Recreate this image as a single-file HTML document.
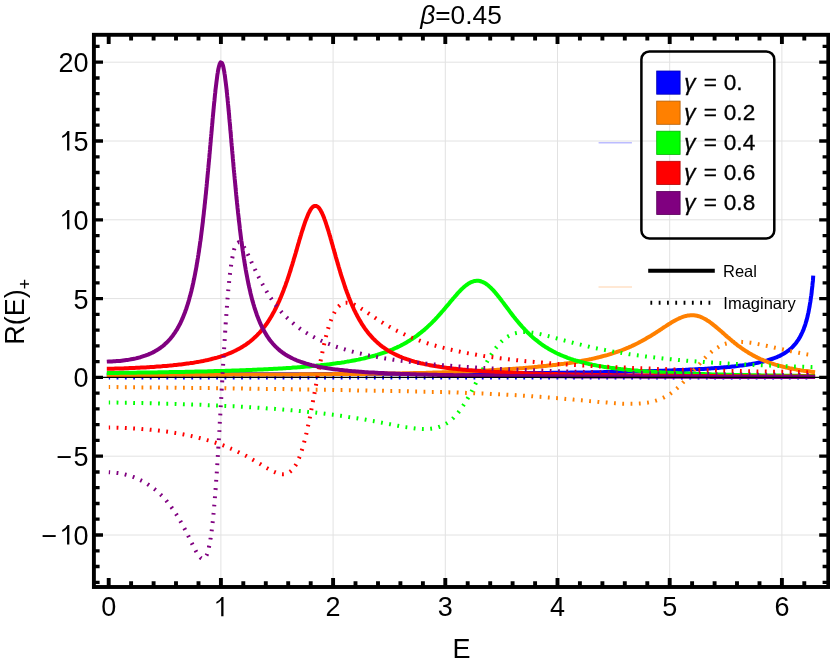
<!DOCTYPE html>
<html><head><meta charset="utf-8"><title>plot</title>
<style>html,body{margin:0;padding:0;background:#fff}svg{display:block;will-change:transform}text{font-family:"Liberation Sans",sans-serif;fill:#000}</style></head>
<body>
<svg width="830" height="664" viewBox="0 0 830 664">
<rect width="830" height="664" fill="#fff"/>
<g stroke="#e2e2e2" stroke-width="1" fill="none">
<path d="M220.9 34.8 V587.0"/>
<path d="M333.1 34.8 V587.0"/>
<path d="M445.3 34.8 V587.0"/>
<path d="M557.5 34.8 V587.0"/>
<path d="M669.7 34.8 V587.0"/>
<path d="M781.9 34.8 V587.0"/>
<path d="M93.9 535.0 H828.3"/>
<path d="M93.9 456.2 H828.3"/>
<path d="M93.9 377.4 H828.3"/>
<path d="M93.9 298.6 H828.3"/>
<path d="M93.9 219.8 H828.3"/>
<path d="M93.9 141.0 H828.3"/>
<path d="M93.9 62.2 H828.3"/>
</g>
<path d="M598.6 142.7 H631.9" stroke="#bcbcff" stroke-width="1.4"/>
<path d="M598.5 286.9 H632" stroke="#ffe1c6" stroke-width="1.5"/>
<g fill="none" stroke-width="4.0" stroke-linejoin="round">
<path d="M108.8 374.4 L110.4 374.4 L112.0 374.4 L113.6 374.4 L115.2 374.4 L116.8 374.4 L118.4 374.4 L120.0 374.4 L121.6 374.4 L123.2 374.4 L124.8 374.4 L126.4 374.4 L128.0 374.4 L129.6 374.4 L131.3 374.4 L132.9 374.4 L134.5 374.4 L136.1 374.4 L137.7 374.4 L139.3 374.4 L140.9 374.4 L142.5 374.4 L144.1 374.4 L145.7 374.4 L147.3 374.4 L148.9 374.4 L150.5 374.4 L152.1 374.4 L153.7 374.4 L155.3 374.4 L156.9 374.4 L158.5 374.4 L160.1 374.4 L161.7 374.4 L163.3 374.4 L164.9 374.4 L166.5 374.4 L168.1 374.3 L169.7 374.3 L171.3 374.3 L172.9 374.3 L174.5 374.3 L176.2 374.3 L177.8 374.3 L179.4 374.3 L181.0 374.3 L182.6 374.3 L184.2 374.3 L185.8 374.3 L187.4 374.3 L189.0 374.3 L190.6 374.3 L192.2 374.3 L193.8 374.3 L195.4 374.3 L197.0 374.3 L198.6 374.3 L200.2 374.3 L201.8 374.3 L203.4 374.3 L205.0 374.3 L206.6 374.3 L208.2 374.3 L209.8 374.3 L211.4 374.3 L213.0 374.3 L214.6 374.3 L216.2 374.3 L217.8 374.3 L219.5 374.3 L221.1 374.3 L222.7 374.3 L224.3 374.3 L225.9 374.3 L227.5 374.3 L229.1 374.3 L230.7 374.3 L232.3 374.3 L233.9 374.3 L235.5 374.3 L237.1 374.3 L238.7 374.3 L240.3 374.3 L241.9 374.3 L243.5 374.3 L245.1 374.3 L246.7 374.3 L248.3 374.3 L249.9 374.3 L251.5 374.3 L253.1 374.3 L254.7 374.3 L256.3 374.3 L257.9 374.3 L259.5 374.3 L261.1 374.3 L262.8 374.2 L264.4 374.2 L266.0 374.2 L267.6 374.2 L269.2 374.2 L270.8 374.2 L272.4 374.2 L274.0 374.2 L275.6 374.2 L277.2 374.2 L278.8 374.2 L280.4 374.2 L282.0 374.2 L283.6 374.2 L285.2 374.2 L286.8 374.2 L288.4 374.2 L290.0 374.2 L291.6 374.2 L293.2 374.2 L294.8 374.2 L296.4 374.2 L298.0 374.2 L299.6 374.2 L301.2 374.2 L302.8 374.2 L304.4 374.2 L306.0 374.2 L307.7 374.2 L309.3 374.2 L310.9 374.2 L312.5 374.2 L314.1 374.1 L315.7 374.1 L317.3 374.1 L318.9 374.1 L320.5 374.1 L322.1 374.1 L323.7 374.1 L325.3 374.1 L326.9 374.1 L328.5 374.1 L330.1 374.1 L331.7 374.1 L333.3 374.1 L334.9 374.1 L336.5 374.1 L338.1 374.1 L339.7 374.1 L341.3 374.1 L342.9 374.1 L344.5 374.1 L346.1 374.1 L347.7 374.1 L349.3 374.1 L351.0 374.1 L352.6 374.0 L354.2 374.0 L355.8 374.0 L357.4 374.0 L359.0 374.0 L360.6 374.0 L362.2 374.0 L363.8 374.0 L365.4 374.0 L367.0 374.0 L368.6 374.0 L370.2 374.0 L371.8 374.0 L373.4 374.0 L375.0 374.0 L376.6 374.0 L378.2 374.0 L379.8 374.0 L381.4 374.0 L383.0 373.9 L384.6 373.9 L386.2 373.9 L387.8 373.9 L389.4 373.9 L391.0 373.9 L392.6 373.9 L394.2 373.9 L395.9 373.9 L397.5 373.9 L399.1 373.9 L400.7 373.9 L402.3 373.9 L403.9 373.9 L405.5 373.9 L407.1 373.9 L408.7 373.9 L410.3 373.8 L411.9 373.8 L413.5 373.8 L415.1 373.8 L416.7 373.8 L418.3 373.8 L419.9 373.8 L421.5 373.8 L423.1 373.8 L424.7 373.8 L426.3 373.8 L427.9 373.8 L429.5 373.8 L431.1 373.7 L432.7 373.7 L434.3 373.7 L435.9 373.7 L437.5 373.7 L439.2 373.7 L440.8 373.7 L442.4 373.7 L444.0 373.7 L445.6 373.7 L447.2 373.7 L448.8 373.7 L450.4 373.7 L452.0 373.6 L453.6 373.6 L455.2 373.6 L456.8 373.6 L458.4 373.6 L460.0 373.6 L461.6 373.6 L463.2 373.6 L464.8 373.6 L466.4 373.6 L468.0 373.5 L469.6 373.5 L471.2 373.5 L472.8 373.5 L474.4 373.5 L476.0 373.5 L477.6 373.5 L479.2 373.5 L480.8 373.5 L482.4 373.5 L484.1 373.4 L485.7 373.4 L487.3 373.4 L488.9 373.4 L490.5 373.4 L492.1 373.4 L493.7 373.4 L495.3 373.4 L496.9 373.4 L498.5 373.3 L500.1 373.3 L501.7 373.3 L503.3 373.3 L504.9 373.3 L506.5 373.3 L508.1 373.3 L509.7 373.3 L511.3 373.2 L512.9 373.2 L514.5 373.2 L516.1 373.2 L517.7 373.2 L519.3 373.2 L520.9 373.2 L522.5 373.1 L524.1 373.1 L525.7 373.1 L527.4 373.1 L529.0 373.1 L530.6 373.1 L532.2 373.1 L533.8 373.0 L535.4 373.0 L537.0 373.0 L538.6 373.0 L540.2 373.0 L541.8 373.0 L543.4 372.9 L545.0 372.9 L546.6 372.9 L548.2 372.9 L549.8 372.9 L551.4 372.9 L553.0 372.8 L554.6 372.8 L556.2 372.8 L557.8 372.8 L559.4 372.8 L561.0 372.7 L562.6 372.7 L564.2 372.7 L565.8 372.7 L567.4 372.7 L569.0 372.7 L570.6 372.6 L572.2 372.6 L573.9 372.6 L575.5 372.6 L577.1 372.5 L578.7 372.5 L580.3 372.5 L581.9 372.5 L583.5 372.5 L585.1 372.4 L586.7 372.4 L588.3 372.4 L589.9 372.4 L591.5 372.3 L593.1 372.3 L594.7 372.3 L596.3 372.3 L597.9 372.2 L599.5 372.2 L601.1 372.2 L602.7 372.2 L604.3 372.1 L605.9 372.1 L607.5 372.1 L609.1 372.0 L610.7 372.0 L612.3 372.0 L613.9 371.9 L615.5 371.9 L617.1 371.9 L618.7 371.9 L620.4 371.8 L622.0 371.8 L623.6 371.8 L625.2 371.7 L626.8 371.7 L628.4 371.6 L630.0 371.6 L631.6 371.6 L633.2 371.5 L634.8 371.5 L636.4 371.5 L638.0 371.4 L639.6 371.4 L641.2 371.3 L642.8 371.3 L644.4 371.3 L646.0 371.2 L647.6 371.2 L649.2 371.1 L650.8 371.1 L652.4 371.0 L654.0 371.0 L655.6 370.9 L657.2 370.9 L658.8 370.8 L660.4 370.8 L662.0 370.7 L663.6 370.7 L665.2 370.6 L666.8 370.6 L668.4 370.5 L670.0 370.5 L671.6 370.4 L673.3 370.3 L674.9 370.3 L676.5 370.2 L678.1 370.1 L679.7 370.1 L681.3 370.0 L682.9 369.9 L684.5 369.9 L686.1 369.8 L687.7 369.7 L689.3 369.6 L690.9 369.6 L692.5 369.5 L694.1 369.4 L695.7 369.3 L697.3 369.2 L698.9 369.1 L700.5 369.1 L702.1 369.0 L703.7 368.9 L705.3 368.8 L706.9 368.7 L708.5 368.6 L710.1 368.5 L711.7 368.3 L713.3 368.2 L714.9 368.1 L716.5 368.0 L718.1 367.9 L719.7 367.7 L721.3 367.6 L722.9 367.5 L724.5 367.3 L726.1 367.2 L727.7 367.0 L729.3 366.9 L730.9 366.7 L732.5 366.5 L734.0 366.4 L735.6 366.2 L737.2 366.0 L738.8 365.8 L740.4 365.6 L742.0 365.4 L743.6 365.2 L745.2 365.0 L746.8 364.7 L748.4 364.5 L749.9 364.2 L751.5 364.0 L753.1 363.7 L754.7 363.4 L756.3 363.1 L757.8 362.8 L759.4 362.4 L761.0 362.1 L762.5 361.7 L764.1 361.3 L765.6 360.9 L767.2 360.5 L768.7 360.0 L770.2 359.5 L771.8 359.0 L773.3 358.5 L774.8 357.9 L776.3 357.4 L777.7 356.7 L779.2 356.1 L780.6 355.4 L782.1 354.6 L783.5 353.8 L784.8 353.0 L786.2 352.1 L787.5 351.2 L788.8 350.3 L790.0 349.2 L791.2 348.2 L792.4 347.1 L793.5 345.9 L794.6 344.7 L795.6 343.5 L796.6 342.2 L797.5 340.9 L798.4 339.6 L799.3 338.2 L800.1 336.8 L800.8 335.4 L801.5 334.0 L802.2 332.5 L802.8 331.1 L803.5 329.6 L804.0 328.1 L804.6 326.6 L805.1 325.1 L805.6 323.5 L806.0 322.0 L806.5 320.5 L806.9 318.9 L807.3 317.4 L807.7 315.8 L808.0 314.2 L808.4 312.7 L808.7 311.1 L809.0 309.5 L809.3 307.9 L809.6 306.4 L809.8 304.8 L810.1 303.2 L810.4 301.6 L810.6 300.0 L810.8 298.4 L811.0 296.9 L811.3 295.3 L811.5 293.7 L811.7 292.1 L811.8 290.5 L812.0 288.9 L812.2 287.3 L812.4 285.7 L812.5 284.1 L812.7 282.5 L812.9 280.9 L813.0 279.3 L813.1 277.7" stroke="#0000ff" stroke-linecap="square"/>
<path d="M108.8 377.4 L110.4 377.4 L112.0 377.4 L113.6 377.4 L115.2 377.4 L116.8 377.4 L118.4 377.4 L120.0 377.4 L121.6 377.4 L123.2 377.4 L124.8 377.4 L126.4 377.4 L128.1 377.4 L129.7 377.4 L131.3 377.4 L132.9 377.4 L134.5 377.4 L136.1 377.4 L137.7 377.4 L139.3 377.4 L140.9 377.4 L142.5 377.4 L144.1 377.4 L145.7 377.4 L147.3 377.4 L148.9 377.4 L150.5 377.4 L152.1 377.4 L153.7 377.4 L155.3 377.4 L156.9 377.4 L158.5 377.4 L160.1 377.4 L161.7 377.4 L163.4 377.4 L165.0 377.4 L166.6 377.4 L168.2 377.4 L169.8 377.4 L171.4 377.4 L173.0 377.4 L174.6 377.4 L176.2 377.4 L177.8 377.4 L179.4 377.4 L181.0 377.4 L182.6 377.4 L184.2 377.4 L185.8 377.4 L187.4 377.4 L189.0 377.4 L190.6 377.4 L192.2 377.4 L193.8 377.4 L195.4 377.4 L197.0 377.4 L198.6 377.4 L200.3 377.4 L201.9 377.4 L203.5 377.4 L205.1 377.4 L206.7 377.4 L208.3 377.4 L209.9 377.4 L211.5 377.4 L213.1 377.4 L214.7 377.4 L216.3 377.4 L217.9 377.4 L219.5 377.4 L221.1 377.4 L222.7 377.4 L224.3 377.4 L225.9 377.4 L227.5 377.4 L229.1 377.4 L230.7 377.4 L232.3 377.4 L233.9 377.4 L235.6 377.4 L237.2 377.4 L238.8 377.4 L240.4 377.4 L242.0 377.4 L243.6 377.4 L245.2 377.4 L246.8 377.4 L248.4 377.4 L250.0 377.4 L251.6 377.4 L253.2 377.4 L254.8 377.4 L256.4 377.4 L258.0 377.4 L259.6 377.4 L261.2 377.4 L262.8 377.4 L264.4 377.4 L266.0 377.4 L267.6 377.4 L269.2 377.4 L270.8 377.4 L272.5 377.4 L274.1 377.4 L275.7 377.4 L277.3 377.4 L278.9 377.4 L280.5 377.4 L282.1 377.4 L283.7 377.4 L285.3 377.4 L286.9 377.4 L288.5 377.4 L290.1 377.4 L291.7 377.4 L293.3 377.4 L294.9 377.4 L296.5 377.4 L298.1 377.4 L299.7 377.4 L301.3 377.4 L302.9 377.4 L304.5 377.4 L306.1 377.4 L307.7 377.4 L309.4 377.4 L311.0 377.4 L312.6 377.4 L314.2 377.4 L315.8 377.4 L317.4 377.4 L319.0 377.4 L320.6 377.4 L322.2 377.4 L323.8 377.4 L325.4 377.4 L327.0 377.4 L328.6 377.4 L330.2 377.4 L331.8 377.4 L333.4 377.4 L335.0 377.4 L336.6 377.4 L338.2 377.4 L339.8 377.4 L341.4 377.4 L343.0 377.4 L344.7 377.4 L346.3 377.4 L347.9 377.4 L349.5 377.4 L351.1 377.4 L352.7 377.4 L354.3 377.4 L355.9 377.4 L357.5 377.4 L359.1 377.4 L360.7 377.4 L362.3 377.4 L363.9 377.4 L365.5 377.4 L367.1 377.4 L368.7 377.4 L370.3 377.4 L371.9 377.4 L373.5 377.4 L375.1 377.4 L376.7 377.4 L378.3 377.4 L379.9 377.4 L381.6 377.4 L383.2 377.4 L384.8 377.4 L386.4 377.4 L388.0 377.4 L389.6 377.4 L391.2 377.4 L392.8 377.4 L394.4 377.4 L396.0 377.4 L397.6 377.4 L399.2 377.4 L400.8 377.4 L402.4 377.4 L404.0 377.4 L405.6 377.4 L407.2 377.4 L408.8 377.4 L410.4 377.4 L412.0 377.4 L413.6 377.4 L415.2 377.4 L416.9 377.4 L418.5 377.4 L420.1 377.4 L421.7 377.4 L423.3 377.4 L424.9 377.4 L426.5 377.4 L428.1 377.4 L429.7 377.4 L431.3 377.4 L432.9 377.4 L434.5 377.4 L436.1 377.4 L437.7 377.4 L439.3 377.4 L440.9 377.4 L442.5 377.4 L444.1 377.4 L445.7 377.4 L447.3 377.4 L448.9 377.4 L450.5 377.4 L452.1 377.4 L453.8 377.4 L455.4 377.4 L457.0 377.4 L458.6 377.4 L460.2 377.4 L461.8 377.4 L463.4 377.4 L465.0 377.4 L466.6 377.4 L468.2 377.4 L469.8 377.4 L471.4 377.4 L473.0 377.4 L474.6 377.4 L476.2 377.4 L477.8 377.4 L479.4 377.4 L481.0 377.4 L482.6 377.4 L484.2 377.4 L485.8 377.4 L487.4 377.4 L489.1 377.4 L490.7 377.4 L492.3 377.4 L493.9 377.4 L495.5 377.4 L497.1 377.4 L498.7 377.4 L500.3 377.4 L501.9 377.4 L503.5 377.4 L505.1 377.4 L506.7 377.4 L508.3 377.4 L509.9 377.4 L511.5 377.4 L513.1 377.4 L514.7 377.4 L516.3 377.4 L517.9 377.4 L519.5 377.4 L521.1 377.4 L522.7 377.4 L524.3 377.4 L526.0 377.4 L527.6 377.4 L529.2 377.4 L530.8 377.4 L532.4 377.4 L534.0 377.4 L535.6 377.4 L537.2 377.4 L538.8 377.4 L540.4 377.4 L542.0 377.4 L543.6 377.4 L545.2 377.4 L546.8 377.4 L548.4 377.4 L550.0 377.4 L551.6 377.4 L553.2 377.4 L554.8 377.4 L556.4 377.4 L558.0 377.4 L559.6 377.4 L561.2 377.4 L562.9 377.4 L564.5 377.4 L566.1 377.4 L567.7 377.4 L569.3 377.4 L570.9 377.4 L572.5 377.4 L574.1 377.4 L575.7 377.4 L577.3 377.4 L578.9 377.4 L580.5 377.4 L582.1 377.4 L583.7 377.4 L585.3 377.4 L586.9 377.4 L588.5 377.4 L590.1 377.4 L591.7 377.4 L593.3 377.4 L594.9 377.4 L596.5 377.4 L598.2 377.4 L599.8 377.4 L601.4 377.4 L603.0 377.4 L604.6 377.4 L606.2 377.4 L607.8 377.4 L609.4 377.4 L611.0 377.4 L612.6 377.4 L614.2 377.4 L615.8 377.4 L617.4 377.4 L619.0 377.4 L620.6 377.4 L622.2 377.4 L623.8 377.4 L625.4 377.4 L627.0 377.4 L628.6 377.4 L630.2 377.4 L631.8 377.4 L633.4 377.4 L635.1 377.4 L636.7 377.4 L638.3 377.4 L639.9 377.4 L641.5 377.4 L643.1 377.4 L644.7 377.4 L646.3 377.4 L647.9 377.4 L649.5 377.4 L651.1 377.4 L652.7 377.4 L654.3 377.4 L655.9 377.4 L657.5 377.4 L659.1 377.4 L660.7 377.4 L662.3 377.4 L663.9 377.4 L665.5 377.4 L667.1 377.4 L668.7 377.4 L670.4 377.4 L672.0 377.4 L673.6 377.4 L675.2 377.4 L676.8 377.4 L678.4 377.4 L680.0 377.4 L681.6 377.4 L683.2 377.4 L684.8 377.4 L686.4 377.4 L688.0 377.4 L689.6 377.4 L691.2 377.4 L692.8 377.4 L694.4 377.4 L696.0 377.4 L697.6 377.4 L699.2 377.4 L700.8 377.4 L702.4 377.4 L704.0 377.4 L705.6 377.4 L707.3 377.4 L708.9 377.4 L710.5 377.4 L712.1 377.4 L713.7 377.4 L715.3 377.4 L716.9 377.4 L718.5 377.4 L720.1 377.4 L721.7 377.4 L723.3 377.4 L724.9 377.4 L726.5 377.4 L728.1 377.4 L729.7 377.4 L731.3 377.4 L732.9 377.4 L734.5 377.4 L736.1 377.4 L737.7 377.4 L739.3 377.4 L740.9 377.4 L742.6 377.4 L744.2 377.4 L745.8 377.4 L747.4 377.4 L749.0 377.4 L750.6 377.4 L752.2 377.4 L753.8 377.4 L755.4 377.4 L757.0 377.4 L758.6 377.4 L760.2 377.4 L761.8 377.4 L763.4 377.4 L765.0 377.4 L766.6 377.4 L768.2 377.4 L769.8 377.4 L771.4 377.4 L773.0 377.4 L774.6 377.4 L776.2 377.4 L777.8 377.4 L779.5 377.4 L781.1 377.4 L782.7 377.4 L784.3 377.4 L785.9 377.4 L787.5 377.4 L789.1 377.4 L790.7 377.4 L792.3 377.4 L793.9 377.4 L795.5 377.4 L797.1 377.4 L798.7 377.4 L800.3 377.4 L801.9 377.4 L803.5 377.4 L805.1 377.4 L806.7 377.4 L808.3 377.4 L809.9 377.4 L811.5 377.4 L813.1 377.4" stroke="#0000ff" stroke-dasharray="1.8 6.5" stroke-dashoffset="0.5"/>
<path d="M108.8 375.0 L110.4 375.0 L112.0 375.0 L113.6 375.0 L115.2 375.0 L116.8 375.0 L118.4 375.0 L120.0 375.0 L121.7 375.0 L123.3 375.0 L124.9 375.0 L126.5 375.0 L128.1 375.0 L129.7 374.9 L131.3 374.9 L132.9 374.9 L134.5 374.9 L136.1 374.9 L137.7 374.9 L139.3 374.9 L140.9 374.9 L142.5 374.9 L144.1 374.9 L145.7 374.9 L147.4 374.9 L149.0 374.9 L150.6 374.9 L152.2 374.9 L153.8 374.9 L155.4 374.9 L157.0 374.9 L158.6 374.9 L160.2 374.9 L161.8 374.9 L163.4 374.9 L165.0 374.9 L166.6 374.8 L168.2 374.8 L169.8 374.8 L171.5 374.8 L173.1 374.8 L174.7 374.8 L176.3 374.8 L177.9 374.8 L179.5 374.8 L181.1 374.8 L182.7 374.8 L184.3 374.8 L185.9 374.8 L187.5 374.8 L189.1 374.8 L190.7 374.8 L192.3 374.8 L193.9 374.8 L195.5 374.8 L197.2 374.8 L198.8 374.8 L200.4 374.7 L202.0 374.7 L203.6 374.7 L205.2 374.7 L206.8 374.7 L208.4 374.7 L210.0 374.7 L211.6 374.7 L213.2 374.7 L214.8 374.7 L216.4 374.7 L218.0 374.7 L219.6 374.7 L221.2 374.7 L222.9 374.7 L224.5 374.7 L226.1 374.7 L227.7 374.7 L229.3 374.6 L230.9 374.6 L232.5 374.6 L234.1 374.6 L235.7 374.6 L237.3 374.6 L238.9 374.6 L240.5 374.6 L242.1 374.6 L243.7 374.6 L245.3 374.6 L247.0 374.6 L248.6 374.6 L250.2 374.6 L251.8 374.6 L253.4 374.6 L255.0 374.6 L256.6 374.5 L258.2 374.5 L259.8 374.5 L261.4 374.5 L263.0 374.5 L264.6 374.5 L266.2 374.5 L267.8 374.5 L269.4 374.5 L271.0 374.5 L272.7 374.5 L274.3 374.5 L275.9 374.5 L277.5 374.5 L279.1 374.4 L280.7 374.4 L282.3 374.4 L283.9 374.4 L285.5 374.4 L287.1 374.4 L288.7 374.4 L290.3 374.4 L291.9 374.4 L293.5 374.4 L295.1 374.4 L296.7 374.4 L298.4 374.4 L300.0 374.3 L301.6 374.3 L303.2 374.3 L304.8 374.3 L306.4 374.3 L308.0 374.3 L309.6 374.3 L311.2 374.3 L312.8 374.3 L314.4 374.3 L316.0 374.3 L317.6 374.2 L319.2 374.2 L320.8 374.2 L322.5 374.2 L324.1 374.2 L325.7 374.2 L327.3 374.2 L328.9 374.2 L330.5 374.2 L332.1 374.2 L333.7 374.1 L335.3 374.1 L336.9 374.1 L338.5 374.1 L340.1 374.1 L341.7 374.1 L343.3 374.1 L344.9 374.1 L346.5 374.0 L348.2 374.0 L349.8 374.0 L351.4 374.0 L353.0 374.0 L354.6 374.0 L356.2 374.0 L357.8 373.9 L359.4 373.9 L361.0 373.9 L362.6 373.9 L364.2 373.9 L365.8 373.9 L367.4 373.8 L369.0 373.8 L370.6 373.8 L372.2 373.8 L373.9 373.8 L375.5 373.8 L377.1 373.7 L378.7 373.7 L380.3 373.7 L381.9 373.7 L383.5 373.6 L385.1 373.6 L386.7 373.6 L388.3 373.6 L389.9 373.6 L391.5 373.5 L393.1 373.5 L394.7 373.5 L396.3 373.5 L397.9 373.4 L399.6 373.4 L401.2 373.4 L402.8 373.3 L404.4 373.3 L406.0 373.3 L407.6 373.3 L409.2 373.2 L410.8 373.2 L412.4 373.2 L414.0 373.1 L415.6 373.1 L417.2 373.0 L418.8 373.0 L420.4 373.0 L422.0 372.9 L423.6 372.9 L425.3 372.9 L426.9 372.8 L428.5 372.8 L430.1 372.7 L431.7 372.7 L433.3 372.6 L434.9 372.6 L436.5 372.5 L438.1 372.5 L439.7 372.4 L441.3 372.4 L442.9 372.3 L444.5 372.3 L446.1 372.2 L447.7 372.2 L449.3 372.1 L450.9 372.1 L452.5 372.0 L454.2 371.9 L455.8 371.9 L457.4 371.8 L459.0 371.8 L460.6 371.7 L462.2 371.6 L463.8 371.6 L465.4 371.5 L467.0 371.4 L468.6 371.4 L470.2 371.3 L471.8 371.2 L473.4 371.1 L475.0 371.1 L476.6 371.0 L478.2 370.9 L479.8 370.8 L481.4 370.7 L483.0 370.7 L484.6 370.6 L486.2 370.5 L487.9 370.4 L489.5 370.3 L491.1 370.2 L492.7 370.1 L494.3 370.0 L495.9 369.9 L497.5 369.8 L499.1 369.7 L500.7 369.6 L502.3 369.5 L503.9 369.4 L505.5 369.3 L507.1 369.2 L508.7 369.1 L510.3 369.0 L511.9 368.9 L513.5 368.8 L515.1 368.7 L516.7 368.5 L518.3 368.4 L519.9 368.3 L521.5 368.2 L523.1 368.1 L524.7 367.9 L526.3 367.8 L527.9 367.7 L529.5 367.5 L531.1 367.4 L532.7 367.2 L534.3 367.1 L535.9 366.9 L537.5 366.8 L539.1 366.6 L540.7 366.5 L542.3 366.3 L543.9 366.1 L545.5 366.0 L547.1 365.8 L548.7 365.6 L550.3 365.4 L551.9 365.3 L553.5 365.1 L555.1 364.9 L556.7 364.7 L558.3 364.5 L559.9 364.3 L561.5 364.1 L563.1 363.9 L564.6 363.6 L566.2 363.4 L567.8 363.2 L569.4 363.0 L571.0 362.7 L572.6 362.5 L574.2 362.2 L575.8 362.0 L577.3 361.7 L578.9 361.4 L580.5 361.1 L582.1 360.8 L583.7 360.5 L585.2 360.2 L586.8 359.9 L588.4 359.6 L590.0 359.3 L591.5 359.0 L593.1 358.6 L594.7 358.3 L596.2 357.9 L597.8 357.5 L599.4 357.1 L600.9 356.7 L602.5 356.3 L604.0 355.9 L605.6 355.5 L607.1 355.1 L608.7 354.6 L610.2 354.1 L611.7 353.7 L613.3 353.2 L614.8 352.7 L616.3 352.2 L617.8 351.6 L619.3 351.1 L620.9 350.6 L622.4 350.0 L623.9 349.4 L625.3 348.8 L626.8 348.2 L628.3 347.6 L629.8 346.9 L631.3 346.3 L632.7 345.6 L634.2 344.9 L635.6 344.2 L637.1 343.5 L638.5 342.8 L639.9 342.0 L641.3 341.3 L642.7 340.5 L644.1 339.7 L645.5 338.9 L646.9 338.1 L648.3 337.3 L649.7 336.5 L651.1 335.7 L652.4 334.8 L653.8 334.0 L655.1 333.1 L656.5 332.2 L657.8 331.4 L659.2 330.5 L660.5 329.6 L661.9 328.7 L663.2 327.8 L664.6 326.9 L665.9 326.1 L667.2 325.2 L668.6 324.3 L670.0 323.5 L671.3 322.6 L672.7 321.8 L674.1 321.0 L675.5 320.2 L676.9 319.5 L678.4 318.8 L679.8 318.1 L681.3 317.5 L682.8 316.9 L684.3 316.4 L685.9 316.0 L687.5 315.6 L689.0 315.4 L690.6 315.3 L692.2 315.2 L693.8 315.3 L695.4 315.5 L697.0 315.8 L698.6 316.2 L700.1 316.7 L701.6 317.3 L703.0 318.0 L704.5 318.7 L705.9 319.5 L707.2 320.4 L708.6 321.2 L709.9 322.2 L711.2 323.1 L712.5 324.1 L713.7 325.1 L715.0 326.1 L716.2 327.1 L717.5 328.2 L718.7 329.2 L719.9 330.3 L721.1 331.3 L722.3 332.4 L723.5 333.4 L724.7 334.5 L725.9 335.6 L727.1 336.6 L728.3 337.7 L729.6 338.7 L730.8 339.7 L732.0 340.8 L733.3 341.8 L734.5 342.8 L735.8 343.8 L737.0 344.8 L738.3 345.8 L739.6 346.7 L740.9 347.7 L742.2 348.6 L743.5 349.5 L744.9 350.4 L746.2 351.3 L747.6 352.1 L748.9 353.0 L750.3 353.8 L751.7 354.6 L753.1 355.4 L754.5 356.1 L756.0 356.9 L757.4 357.6 L758.9 358.3 L760.3 359.0 L761.8 359.6 L763.3 360.2 L764.7 360.9 L766.2 361.4 L767.7 362.0 L769.2 362.6 L770.8 363.1 L772.3 363.6 L773.8 364.1 L775.3 364.6 L776.9 365.0 L778.4 365.5 L780.0 365.9 L781.5 366.3 L783.1 366.7 L784.7 367.1 L786.2 367.5 L787.8 367.8 L789.4 368.2 L790.9 368.5 L792.5 368.8 L794.1 369.1 L795.7 369.4 L797.2 369.7 L798.8 369.9 L800.4 370.2 L802.0 370.4 L803.6 370.7 L805.2 370.9 L806.8 371.1 L808.4 371.3 L810.0 371.5 L811.5 371.7 L813.1 371.9" stroke="#ff8000" stroke-linecap="square"/>
<path d="M108.8 387.1 L110.4 387.1 L112.0 387.1 L113.6 387.1 L115.2 387.1 L116.8 387.1 L118.4 387.2 L120.0 387.2 L121.6 387.2 L123.2 387.2 L124.8 387.2 L126.4 387.2 L128.0 387.2 L129.6 387.3 L131.3 387.3 L132.9 387.3 L134.5 387.3 L136.1 387.3 L137.7 387.3 L139.3 387.4 L140.9 387.4 L142.5 387.4 L144.1 387.4 L145.7 387.4 L147.3 387.4 L148.9 387.5 L150.5 387.5 L152.1 387.5 L153.7 387.5 L155.3 387.5 L156.9 387.5 L158.5 387.6 L160.1 387.6 L161.7 387.6 L163.3 387.6 L164.9 387.6 L166.5 387.6 L168.1 387.7 L169.7 387.7 L171.3 387.7 L173.0 387.7 L174.6 387.7 L176.2 387.7 L177.8 387.8 L179.4 387.8 L181.0 387.8 L182.6 387.8 L184.2 387.8 L185.8 387.8 L187.4 387.9 L189.0 387.9 L190.6 387.9 L192.2 387.9 L193.8 387.9 L195.4 388.0 L197.0 388.0 L198.6 388.0 L200.2 388.0 L201.8 388.0 L203.4 388.1 L205.0 388.1 L206.6 388.1 L208.2 388.1 L209.8 388.1 L211.4 388.2 L213.0 388.2 L214.7 388.2 L216.3 388.2 L217.9 388.2 L219.5 388.3 L221.1 388.3 L222.7 388.3 L224.3 388.3 L225.9 388.3 L227.5 388.4 L229.1 388.4 L230.7 388.4 L232.3 388.4 L233.9 388.4 L235.5 388.5 L237.1 388.5 L238.7 388.5 L240.3 388.5 L241.9 388.5 L243.5 388.6 L245.1 388.6 L246.7 388.6 L248.3 388.6 L249.9 388.7 L251.5 388.7 L253.1 388.7 L254.7 388.7 L256.4 388.7 L258.0 388.8 L259.6 388.8 L261.2 388.8 L262.8 388.8 L264.4 388.9 L266.0 388.9 L267.6 388.9 L269.2 388.9 L270.8 389.0 L272.4 389.0 L274.0 389.0 L275.6 389.0 L277.2 389.1 L278.8 389.1 L280.4 389.1 L282.0 389.1 L283.6 389.1 L285.2 389.2 L286.8 389.2 L288.4 389.2 L290.0 389.2 L291.6 389.3 L293.2 389.3 L294.8 389.3 L296.4 389.3 L298.0 389.4 L299.7 389.4 L301.3 389.4 L302.9 389.4 L304.5 389.5 L306.1 389.5 L307.7 389.5 L309.3 389.5 L310.9 389.6 L312.5 389.6 L314.1 389.6 L315.7 389.7 L317.3 389.7 L318.9 389.7 L320.5 389.7 L322.1 389.8 L323.7 389.8 L325.3 389.8 L326.9 389.8 L328.5 389.9 L330.1 389.9 L331.7 389.9 L333.3 389.9 L334.9 390.0 L336.5 390.0 L338.1 390.0 L339.7 390.1 L341.3 390.1 L343.0 390.1 L344.6 390.1 L346.2 390.2 L347.8 390.2 L349.4 390.2 L351.0 390.3 L352.6 390.3 L354.2 390.3 L355.8 390.3 L357.4 390.4 L359.0 390.4 L360.6 390.4 L362.2 390.4 L363.8 390.5 L365.4 390.5 L367.0 390.5 L368.6 390.6 L370.2 390.6 L371.8 390.6 L373.4 390.7 L375.0 390.7 L376.6 390.7 L378.2 390.7 L379.8 390.8 L381.4 390.8 L383.0 390.8 L384.6 390.9 L386.2 390.9 L387.9 390.9 L389.5 391.0 L391.1 391.0 L392.7 391.0 L394.3 391.0 L395.9 391.1 L397.5 391.1 L399.1 391.1 L400.7 391.2 L402.3 391.2 L403.9 391.2 L405.5 391.3 L407.1 391.3 L408.7 391.3 L410.3 391.4 L411.9 391.4 L413.5 391.4 L415.1 391.5 L416.7 391.5 L418.3 391.5 L419.9 391.6 L421.5 391.6 L423.1 391.7 L424.7 391.7 L426.3 391.7 L427.9 391.8 L429.5 391.8 L431.1 391.9 L432.8 391.9 L434.4 391.9 L436.0 392.0 L437.6 392.0 L439.2 392.1 L440.8 392.1 L442.4 392.1 L444.0 392.2 L445.6 392.2 L447.2 392.3 L448.8 392.3 L450.4 392.4 L452.0 392.4 L453.6 392.5 L455.2 392.5 L456.8 392.6 L458.4 392.6 L460.0 392.7 L461.6 392.7 L463.2 392.8 L464.8 392.8 L466.4 392.9 L468.0 393.0 L469.6 393.0 L471.2 393.1 L472.8 393.1 L474.4 393.2 L476.0 393.3 L477.6 393.3 L479.2 393.4 L480.8 393.5 L482.4 393.5 L484.0 393.6 L485.7 393.7 L487.3 393.7 L488.9 393.8 L490.5 393.9 L492.1 394.0 L493.7 394.0 L495.3 394.1 L496.9 394.2 L498.5 394.3 L500.1 394.3 L501.7 394.4 L503.3 394.5 L504.9 394.6 L506.5 394.7 L508.1 394.8 L509.7 394.9 L511.3 394.9 L512.9 395.0 L514.5 395.1 L516.1 395.2 L517.7 395.3 L519.3 395.4 L520.9 395.5 L522.5 395.6 L524.1 395.7 L525.7 395.8 L527.3 395.9 L528.9 396.0 L530.5 396.1 L532.1 396.3 L533.7 396.4 L535.3 396.5 L536.9 396.6 L538.5 396.7 L540.1 396.8 L541.7 396.9 L543.3 397.1 L544.9 397.2 L546.5 397.3 L548.1 397.4 L549.7 397.5 L551.3 397.7 L552.9 397.8 L554.5 397.9 L556.1 398.1 L557.7 398.2 L559.3 398.3 L560.9 398.5 L562.5 398.6 L564.1 398.7 L565.7 398.9 L567.3 399.0 L568.9 399.2 L570.5 399.3 L572.1 399.4 L573.7 399.6 L575.3 399.7 L576.9 399.9 L578.5 400.0 L580.0 400.2 L581.6 400.3 L583.2 400.5 L584.8 400.6 L586.4 400.8 L588.0 400.9 L589.6 401.1 L591.2 401.2 L592.8 401.3 L594.4 401.5 L596.0 401.6 L597.6 401.8 L599.2 401.9 L600.8 402.1 L602.4 402.2 L604.0 402.4 L605.6 402.5 L607.2 402.6 L608.8 402.8 L610.4 402.9 L612.0 403.0 L613.6 403.1 L615.2 403.2 L616.8 403.3 L618.4 403.4 L620.0 403.5 L621.6 403.6 L623.2 403.7 L624.8 403.7 L626.4 403.8 L628.0 403.8 L629.6 403.8 L631.2 403.8 L632.8 403.8 L634.4 403.8 L636.0 403.8 L637.6 403.7 L639.2 403.6 L640.8 403.5 L642.4 403.3 L644.0 403.1 L645.6 402.9 L647.2 402.7 L648.8 402.4 L650.4 402.1 L651.9 401.8 L653.5 401.4 L655.0 400.9 L656.6 400.4 L658.1 399.9 L659.6 399.4 L661.0 398.7 L662.5 398.1 L664.0 397.4 L665.4 396.6 L666.8 395.9 L668.1 395.0 L669.5 394.2 L670.8 393.3 L672.1 392.3 L673.4 391.4 L674.7 390.4 L675.9 389.3 L677.1 388.3 L678.3 387.2 L679.5 386.1 L680.6 385.0 L681.8 383.9 L682.9 382.7 L684.0 381.6 L685.1 380.4 L686.2 379.2 L687.3 378.0 L688.3 376.8 L689.4 375.6 L690.4 374.4 L691.5 373.2 L692.5 372.0 L693.6 370.8 L694.6 369.5 L695.7 368.3 L696.7 367.1 L697.7 365.9 L698.8 364.7 L699.9 363.5 L700.9 362.3 L702.0 361.1 L703.1 359.9 L704.2 358.7 L705.3 357.6 L706.4 356.5 L707.6 355.3 L708.8 354.3 L710.0 353.2 L711.2 352.1 L712.4 351.1 L713.7 350.1 L715.0 349.2 L716.3 348.3 L717.7 347.5 L719.1 346.6 L720.5 345.9 L721.9 345.2 L723.4 344.6 L724.9 344.0 L726.4 343.5 L728.0 343.1 L729.5 342.7 L731.1 342.4 L732.7 342.2 L734.3 342.0 L735.9 341.9 L737.5 341.8 L739.1 341.8 L740.7 341.8 L742.3 341.9 L743.9 342.0 L745.5 342.1 L747.1 342.3 L748.7 342.5 L750.3 342.7 L751.8 342.9 L753.4 343.2 L755.0 343.5 L756.6 343.8 L758.2 344.1 L759.7 344.4 L761.3 344.7 L762.9 345.0 L764.4 345.4 L766.0 345.7 L767.6 346.0 L769.1 346.4 L770.7 346.7 L772.3 347.1 L773.8 347.4 L775.4 347.8 L777.0 348.1 L778.5 348.5 L780.1 348.8 L781.7 349.2 L783.2 349.5 L784.8 349.9 L786.4 350.2 L787.9 350.5 L789.5 350.9 L791.1 351.2 L792.7 351.5 L794.2 351.8 L795.8 352.2 L797.4 352.5 L798.9 352.8 L800.5 353.1 L802.1 353.4 L803.7 353.7 L805.2 354.0 L806.8 354.3 L808.4 354.5 L810.0 354.8 L811.6 355.1 L813.1 355.4" stroke="#ff8000" stroke-dasharray="1.8 6.5" stroke-dashoffset="0.5"/>
<path d="M108.8 373.0 L110.4 373.0 L112.0 372.9 L113.6 372.9 L115.2 372.9 L116.8 372.9 L118.4 372.9 L120.0 372.8 L121.6 372.8 L123.2 372.8 L124.8 372.8 L126.4 372.8 L128.0 372.8 L129.7 372.7 L131.3 372.7 L132.9 372.7 L134.5 372.7 L136.1 372.7 L137.7 372.6 L139.3 372.6 L140.9 372.6 L142.5 372.6 L144.1 372.5 L145.7 372.5 L147.3 372.5 L148.9 372.5 L150.5 372.5 L152.1 372.4 L153.7 372.4 L155.3 372.4 L156.9 372.4 L158.5 372.3 L160.1 372.3 L161.7 372.3 L163.3 372.2 L164.9 372.2 L166.5 372.2 L168.1 372.2 L169.8 372.1 L171.4 372.1 L173.0 372.1 L174.6 372.1 L176.2 372.0 L177.8 372.0 L179.4 372.0 L181.0 371.9 L182.6 371.9 L184.2 371.9 L185.8 371.8 L187.4 371.8 L189.0 371.8 L190.6 371.7 L192.2 371.7 L193.8 371.7 L195.4 371.6 L197.0 371.6 L198.6 371.6 L200.2 371.5 L201.8 371.5 L203.4 371.4 L205.0 371.4 L206.6 371.4 L208.2 371.3 L209.8 371.3 L211.4 371.2 L213.1 371.2 L214.7 371.1 L216.3 371.1 L217.9 371.1 L219.5 371.0 L221.1 371.0 L222.7 370.9 L224.3 370.9 L225.9 370.8 L227.5 370.8 L229.1 370.7 L230.7 370.7 L232.3 370.6 L233.9 370.6 L235.5 370.5 L237.1 370.5 L238.7 370.4 L240.3 370.3 L241.9 370.3 L243.5 370.2 L245.1 370.2 L246.7 370.1 L248.3 370.0 L249.9 370.0 L251.5 369.9 L253.1 369.8 L254.7 369.8 L256.3 369.7 L257.9 369.6 L259.5 369.6 L261.1 369.5 L262.7 369.4 L264.3 369.3 L266.0 369.3 L267.6 369.2 L269.2 369.1 L270.8 369.0 L272.4 368.9 L274.0 368.8 L275.6 368.7 L277.2 368.7 L278.8 368.6 L280.4 368.5 L282.0 368.4 L283.6 368.3 L285.2 368.2 L286.8 368.1 L288.4 368.0 L290.0 367.9 L291.6 367.8 L293.2 367.6 L294.8 367.5 L296.4 367.4 L298.0 367.3 L299.6 367.2 L301.2 367.0 L302.8 366.9 L304.4 366.8 L306.0 366.6 L307.6 366.5 L309.2 366.4 L310.8 366.2 L312.4 366.1 L314.0 365.9 L315.6 365.8 L317.1 365.6 L318.7 365.4 L320.3 365.3 L321.9 365.1 L323.5 364.9 L325.1 364.7 L326.7 364.6 L328.3 364.4 L329.9 364.2 L331.5 364.0 L333.1 363.8 L334.7 363.6 L336.3 363.3 L337.9 363.1 L339.4 362.9 L341.0 362.7 L342.6 362.4 L344.2 362.2 L345.8 361.9 L347.4 361.6 L348.9 361.4 L350.5 361.1 L352.1 360.8 L353.7 360.5 L355.3 360.2 L356.8 359.9 L358.4 359.6 L360.0 359.2 L361.5 358.9 L363.1 358.6 L364.7 358.2 L366.2 357.8 L367.8 357.4 L369.3 357.0 L370.9 356.6 L372.4 356.2 L374.0 355.8 L375.5 355.3 L377.1 354.9 L378.6 354.4 L380.1 353.9 L381.7 353.4 L383.2 352.9 L384.7 352.4 L386.2 351.9 L387.7 351.3 L389.2 350.7 L390.7 350.1 L392.2 349.5 L393.6 348.9 L395.1 348.2 L396.6 347.6 L398.0 346.9 L399.5 346.2 L400.9 345.5 L402.3 344.7 L403.7 344.0 L405.1 343.2 L406.5 342.4 L407.9 341.6 L409.3 340.8 L410.6 339.9 L412.0 339.0 L413.3 338.1 L414.7 337.2 L416.0 336.3 L417.3 335.4 L418.5 334.4 L419.8 333.4 L421.1 332.4 L422.3 331.4 L423.6 330.4 L424.8 329.4 L426.0 328.3 L427.2 327.2 L428.3 326.1 L429.5 325.0 L430.7 323.9 L431.8 322.8 L432.9 321.7 L434.1 320.5 L435.2 319.4 L436.3 318.2 L437.4 317.0 L438.4 315.8 L439.5 314.6 L440.6 313.4 L441.6 312.2 L442.7 311.0 L443.7 309.8 L444.8 308.6 L445.8 307.3 L446.8 306.1 L447.9 304.9 L448.9 303.7 L449.9 302.4 L450.9 301.2 L452.0 300.0 L453.0 298.7 L454.1 297.5 L455.1 296.3 L456.2 295.1 L457.2 293.9 L458.3 292.7 L459.4 291.5 L460.5 290.4 L461.6 289.2 L462.8 288.1 L464.0 287.0 L465.2 286.0 L466.5 285.0 L467.8 284.1 L469.1 283.2 L470.5 282.4 L472.0 281.8 L473.5 281.3 L475.1 280.9 L476.7 280.8 L478.3 280.8 L479.8 281.0 L481.4 281.5 L482.9 282.1 L484.3 282.8 L485.7 283.6 L487.0 284.5 L488.3 285.5 L489.5 286.6 L490.7 287.7 L491.8 288.8 L492.9 289.9 L494.0 291.1 L495.0 292.3 L496.1 293.6 L497.1 294.8 L498.1 296.1 L499.1 297.3 L500.1 298.6 L501.1 299.8 L502.0 301.1 L503.0 302.4 L504.0 303.7 L504.9 305.0 L505.9 306.3 L506.8 307.5 L507.8 308.8 L508.8 310.1 L509.7 311.4 L510.7 312.7 L511.7 314.0 L512.6 315.2 L513.6 316.5 L514.6 317.7 L515.6 319.0 L516.6 320.2 L517.7 321.5 L518.7 322.7 L519.7 323.9 L520.8 325.1 L521.8 326.3 L522.9 327.5 L524.0 328.7 L525.1 329.9 L526.2 331.0 L527.3 332.2 L528.5 333.3 L529.6 334.4 L530.8 335.5 L532.0 336.6 L533.2 337.7 L534.4 338.7 L535.6 339.7 L536.9 340.7 L538.2 341.7 L539.4 342.7 L540.7 343.7 L542.0 344.6 L543.3 345.5 L544.7 346.4 L546.0 347.3 L547.4 348.1 L548.8 348.9 L550.2 349.7 L551.6 350.5 L553.0 351.3 L554.4 352.0 L555.8 352.8 L557.3 353.5 L558.7 354.1 L560.2 354.8 L561.6 355.4 L563.1 356.0 L564.6 356.6 L566.1 357.2 L567.6 357.8 L569.1 358.3 L570.6 358.9 L572.2 359.4 L573.7 359.9 L575.2 360.3 L576.8 360.8 L578.3 361.2 L579.8 361.7 L581.4 362.1 L582.9 362.5 L584.5 362.9 L586.1 363.3 L587.6 363.6 L589.2 364.0 L590.7 364.3 L592.3 364.7 L593.9 365.0 L595.5 365.3 L597.0 365.6 L598.6 365.9 L600.2 366.1 L601.8 366.4 L603.4 366.7 L604.9 366.9 L606.5 367.2 L608.1 367.4 L609.7 367.6 L611.3 367.9 L612.9 368.1 L614.5 368.3 L616.1 368.5 L617.7 368.7 L619.3 368.9 L620.8 369.1 L622.4 369.2 L624.0 369.4 L625.6 369.6 L627.2 369.8 L628.8 369.9 L630.4 370.1 L632.0 370.2 L633.6 370.4 L635.2 370.5 L636.8 370.6 L638.4 370.8 L640.0 370.9 L641.6 371.0 L643.2 371.2 L644.8 371.3 L646.4 371.4 L648.0 371.5 L649.6 371.6 L651.2 371.7 L652.8 371.8 L654.4 371.9 L656.0 372.0 L657.6 372.1 L659.2 372.2 L660.8 372.3 L662.4 372.4 L664.0 372.5 L665.6 372.6 L667.2 372.7 L668.8 372.7 L670.4 372.8 L672.0 372.9 L673.6 373.0 L675.2 373.0 L676.8 373.1 L678.4 373.2 L680.0 373.3 L681.6 373.3 L683.2 373.4 L684.8 373.5 L686.4 373.5 L688.1 373.6 L689.7 373.6 L691.3 373.7 L692.9 373.8 L694.5 373.8 L696.1 373.9 L697.7 373.9 L699.3 374.0 L700.9 374.0 L702.5 374.1 L704.1 374.1 L705.7 374.2 L707.3 374.2 L708.9 374.3 L710.5 374.3 L712.1 374.4 L713.7 374.4 L715.3 374.4 L716.9 374.5 L718.5 374.5 L720.1 374.6 L721.7 374.6 L723.3 374.6 L724.9 374.7 L726.5 374.7 L728.1 374.7 L729.7 374.8 L731.3 374.8 L732.9 374.9 L734.6 374.9 L736.2 374.9 L737.8 374.9 L739.4 375.0 L741.0 375.0 L742.6 375.0 L744.2 375.1 L745.8 375.1 L747.4 375.1 L749.0 375.2 L750.6 375.2 L752.2 375.2 L753.8 375.2 L755.4 375.3 L757.0 375.3 L758.6 375.3 L760.2 375.3 L761.8 375.4 L763.4 375.4 L765.0 375.4 L766.6 375.4 L768.2 375.5 L769.8 375.5 L771.4 375.5 L773.0 375.5 L774.6 375.5 L776.3 375.6 L777.9 375.6 L779.5 375.6 L781.1 375.6 L782.7 375.7 L784.3 375.7 L785.9 375.7 L787.5 375.7 L789.1 375.7 L790.7 375.7 L792.3 375.8 L793.9 375.8 L795.5 375.8 L797.1 375.8 L798.7 375.8 L800.3 375.9 L801.9 375.9 L803.5 375.9 L805.1 375.9 L806.7 375.9 L808.3 375.9 L809.9 375.9 L811.5 376.0 L813.1 376.0" stroke="#00ff00" stroke-linecap="square"/>
<path d="M108.8 402.5 L110.4 402.5 L112.0 402.5 L113.6 402.6 L115.2 402.6 L116.8 402.6 L118.4 402.7 L120.0 402.7 L121.6 402.7 L123.2 402.7 L124.8 402.8 L126.4 402.8 L128.0 402.8 L129.6 402.9 L131.3 402.9 L132.9 402.9 L134.5 403.0 L136.1 403.0 L137.7 403.0 L139.3 403.1 L140.9 403.1 L142.5 403.1 L144.1 403.2 L145.7 403.2 L147.3 403.2 L148.9 403.3 L150.5 403.3 L152.1 403.4 L153.7 403.4 L155.3 403.4 L156.9 403.5 L158.5 403.5 L160.1 403.6 L161.7 403.6 L163.3 403.7 L164.9 403.7 L166.5 403.7 L168.1 403.8 L169.7 403.8 L171.3 403.9 L172.9 403.9 L174.5 404.0 L176.2 404.0 L177.8 404.1 L179.4 404.1 L181.0 404.2 L182.6 404.2 L184.2 404.3 L185.8 404.3 L187.4 404.4 L189.0 404.4 L190.6 404.5 L192.2 404.6 L193.8 404.6 L195.4 404.7 L197.0 404.7 L198.6 404.8 L200.2 404.8 L201.8 404.9 L203.4 405.0 L205.0 405.0 L206.6 405.1 L208.2 405.2 L209.8 405.2 L211.4 405.3 L213.0 405.4 L214.6 405.4 L216.2 405.5 L217.8 405.6 L219.4 405.6 L221.0 405.7 L222.6 405.8 L224.2 405.9 L225.8 405.9 L227.4 406.0 L229.0 406.1 L230.6 406.2 L232.2 406.3 L233.8 406.3 L235.4 406.4 L237.1 406.5 L238.7 406.6 L240.3 406.7 L241.9 406.8 L243.5 406.9 L245.1 406.9 L246.7 407.0 L248.3 407.1 L249.9 407.2 L251.5 407.3 L253.1 407.4 L254.7 407.5 L256.3 407.6 L257.9 407.7 L259.5 407.8 L261.1 407.9 L262.7 408.0 L264.3 408.1 L265.9 408.3 L267.5 408.4 L269.1 408.5 L270.7 408.6 L272.3 408.7 L273.9 408.8 L275.5 408.9 L277.1 409.1 L278.7 409.2 L280.3 409.3 L281.9 409.4 L283.5 409.6 L285.1 409.7 L286.7 409.8 L288.3 410.0 L289.9 410.1 L291.5 410.3 L293.1 410.4 L294.7 410.5 L296.2 410.7 L297.8 410.8 L299.4 411.0 L301.0 411.1 L302.6 411.3 L304.2 411.5 L305.8 411.6 L307.4 411.8 L309.0 411.9 L310.6 412.1 L312.2 412.3 L313.8 412.4 L315.4 412.6 L317.0 412.8 L318.6 413.0 L320.2 413.2 L321.8 413.4 L323.4 413.5 L325.0 413.7 L326.6 413.9 L328.1 414.1 L329.7 414.3 L331.3 414.5 L332.9 414.7 L334.5 414.9 L336.1 415.2 L337.7 415.4 L339.3 415.6 L340.9 415.8 L342.5 416.0 L344.0 416.3 L345.6 416.5 L347.2 416.7 L348.8 417.0 L350.4 417.2 L352.0 417.5 L353.6 417.7 L355.1 418.0 L356.7 418.2 L358.3 418.5 L359.9 418.7 L361.5 419.0 L363.0 419.3 L364.6 419.5 L366.2 419.8 L367.8 420.1 L369.4 420.4 L370.9 420.7 L372.5 421.0 L374.1 421.2 L375.7 421.5 L377.3 421.8 L378.8 422.1 L380.4 422.4 L382.0 422.7 L383.6 423.0 L385.1 423.3 L386.7 423.6 L388.3 423.9 L389.9 424.2 L391.4 424.5 L393.0 424.8 L394.6 425.1 L396.2 425.4 L397.7 425.7 L399.3 426.0 L400.9 426.3 L402.5 426.6 L404.1 426.9 L405.6 427.1 L407.2 427.4 L408.8 427.6 L410.4 427.9 L412.0 428.1 L413.6 428.3 L415.2 428.5 L416.8 428.7 L418.4 428.8 L420.0 428.9 L421.6 429.0 L423.2 429.1 L424.8 429.1 L426.4 429.1 L428.0 429.0 L429.6 428.9 L431.2 428.7 L432.8 428.5 L434.3 428.2 L435.9 427.9 L437.5 427.5 L439.0 427.0 L440.5 426.5 L442.0 425.8 L443.4 425.2 L444.8 424.4 L446.2 423.6 L447.6 422.7 L448.9 421.8 L450.1 420.8 L451.4 419.8 L452.6 418.7 L453.7 417.6 L454.8 416.4 L455.9 415.3 L457.0 414.1 L458.0 412.8 L459.0 411.6 L460.0 410.3 L460.9 409.0 L461.8 407.7 L462.7 406.4 L463.6 405.0 L464.5 403.7 L465.3 402.3 L466.2 400.9 L467.0 399.6 L467.8 398.2 L468.6 396.8 L469.4 395.4 L470.2 394.0 L470.9 392.6 L471.7 391.1 L472.4 389.7 L473.2 388.3 L473.9 386.9 L474.7 385.5 L475.4 384.0 L476.1 382.6 L476.8 381.2 L477.6 379.7 L478.3 378.3 L479.0 376.9 L479.8 375.5 L480.5 374.0 L481.2 372.6 L482.0 371.2 L482.7 369.8 L483.4 368.3 L484.2 366.9 L485.0 365.5 L485.7 364.1 L486.5 362.7 L487.3 361.3 L488.1 359.9 L488.9 358.5 L489.7 357.1 L490.5 355.8 L491.4 354.4 L492.3 353.1 L493.2 351.7 L494.1 350.4 L495.0 349.1 L496.0 347.8 L497.0 346.6 L498.0 345.3 L499.0 344.1 L500.1 342.9 L501.2 341.8 L502.4 340.7 L503.6 339.6 L504.9 338.6 L506.1 337.7 L507.5 336.8 L508.9 335.9 L510.3 335.2 L511.7 334.5 L513.2 333.9 L514.7 333.4 L516.3 333.0 L517.8 332.7 L519.4 332.4 L521.0 332.2 L522.6 332.1 L524.2 332.1 L525.8 332.1 L527.4 332.2 L529.0 332.3 L530.6 332.4 L532.2 332.7 L533.8 332.9 L535.4 333.2 L537.0 333.5 L538.5 333.8 L540.1 334.1 L541.7 334.5 L543.2 334.8 L544.8 335.2 L546.3 335.6 L547.9 336.0 L549.4 336.4 L551.0 336.8 L552.5 337.2 L554.1 337.7 L555.6 338.1 L557.2 338.5 L558.7 338.9 L560.3 339.4 L561.8 339.8 L563.4 340.2 L564.9 340.6 L566.5 341.0 L568.0 341.5 L569.6 341.9 L571.1 342.3 L572.7 342.7 L574.2 343.1 L575.8 343.5 L577.3 343.9 L578.9 344.3 L580.5 344.6 L582.0 345.0 L583.6 345.4 L585.1 345.8 L586.7 346.1 L588.3 346.5 L589.8 346.9 L591.4 347.2 L593.0 347.5 L594.5 347.9 L596.1 348.2 L597.7 348.6 L599.2 348.9 L600.8 349.2 L602.4 349.5 L603.9 349.8 L605.5 350.1 L607.1 350.4 L608.7 350.7 L610.3 351.0 L611.8 351.3 L613.4 351.6 L615.0 351.9 L616.6 352.1 L618.2 352.4 L619.7 352.7 L621.3 352.9 L622.9 353.2 L624.5 353.4 L626.1 353.7 L627.7 353.9 L629.2 354.2 L630.8 354.4 L632.4 354.6 L634.0 354.9 L635.6 355.1 L637.2 355.3 L638.8 355.5 L640.4 355.7 L641.9 355.9 L643.5 356.2 L645.1 356.4 L646.7 356.6 L648.3 356.8 L649.9 357.0 L651.5 357.1 L653.1 357.3 L654.7 357.5 L656.3 357.7 L657.9 357.9 L659.5 358.1 L661.1 358.2 L662.7 358.4 L664.3 358.6 L665.8 358.7 L667.4 358.9 L669.0 359.1 L670.6 359.2 L672.2 359.4 L673.8 359.5 L675.4 359.7 L677.0 359.8 L678.6 360.0 L680.2 360.1 L681.8 360.3 L683.4 360.4 L685.0 360.5 L686.6 360.7 L688.2 360.8 L689.8 360.9 L691.4 361.1 L693.0 361.2 L694.6 361.3 L696.2 361.4 L697.8 361.6 L699.4 361.7 L701.0 361.8 L702.6 361.9 L704.2 362.0 L705.8 362.2 L707.4 362.3 L709.0 362.4 L710.6 362.5 L712.2 362.6 L713.8 362.7 L715.4 362.8 L717.0 362.9 L718.6 363.0 L720.2 363.1 L721.8 363.2 L723.4 363.3 L725.0 363.4 L726.6 363.5 L728.2 363.6 L729.8 363.7 L731.4 363.8 L733.0 363.9 L734.6 364.0 L736.2 364.0 L737.8 364.1 L739.4 364.2 L741.0 364.3 L742.6 364.4 L744.2 364.5 L745.8 364.5 L747.4 364.6 L749.0 364.7 L750.6 364.8 L752.2 364.8 L753.8 364.9 L755.4 365.0 L757.0 365.1 L758.6 365.1 L760.2 365.2 L761.8 365.3 L763.5 365.4 L765.1 365.4 L766.7 365.5 L768.3 365.6 L769.9 365.6 L771.5 365.7 L773.1 365.8 L774.7 365.8 L776.3 365.9 L777.9 365.9 L779.5 366.0 L781.1 366.1 L782.7 366.1 L784.3 366.2 L785.9 366.2 L787.5 366.3 L789.1 366.3 L790.7 366.4 L792.3 366.5 L793.9 366.5 L795.5 366.6 L797.1 366.6 L798.7 366.7 L800.3 366.7 L801.9 366.8 L803.5 366.8 L805.1 366.9 L806.7 366.9 L808.3 367.0 L809.9 367.0 L811.5 367.1 L813.1 367.1" stroke="#00ff00" stroke-dasharray="1.8 6.5" stroke-dashoffset="0.5"/>
<path d="M108.8 368.8 L110.4 368.8 L112.0 368.7 L113.6 368.7 L115.2 368.6 L116.8 368.6 L118.4 368.5 L120.0 368.5 L121.6 368.4 L123.2 368.4 L124.8 368.3 L126.4 368.3 L128.0 368.2 L129.7 368.1 L131.3 368.1 L132.9 368.0 L134.5 367.9 L136.1 367.8 L137.7 367.8 L139.3 367.7 L140.9 367.6 L142.5 367.5 L144.1 367.4 L145.7 367.4 L147.3 367.3 L148.9 367.2 L150.5 367.1 L152.1 367.0 L153.7 366.9 L155.3 366.7 L156.9 366.6 L158.5 366.5 L160.1 366.4 L161.7 366.3 L163.3 366.1 L164.9 366.0 L166.5 365.9 L168.1 365.7 L169.7 365.6 L171.3 365.4 L172.9 365.3 L174.5 365.1 L176.1 365.0 L177.7 364.8 L179.3 364.6 L180.9 364.4 L182.5 364.2 L184.0 364.0 L185.6 363.8 L187.2 363.6 L188.8 363.4 L190.4 363.1 L192.0 362.9 L193.6 362.7 L195.2 362.4 L196.7 362.1 L198.3 361.9 L199.9 361.6 L201.5 361.3 L203.1 361.0 L204.6 360.6 L206.2 360.3 L207.8 360.0 L209.3 359.6 L210.9 359.2 L212.4 358.8 L214.0 358.4 L215.5 358.0 L217.1 357.6 L218.6 357.1 L220.2 356.7 L221.7 356.2 L223.2 355.7 L224.7 355.1 L226.2 354.6 L227.7 354.0 L229.2 353.4 L230.7 352.8 L232.2 352.2 L233.6 351.5 L235.1 350.8 L236.5 350.1 L238.0 349.3 L239.4 348.6 L240.8 347.8 L242.1 347.0 L243.5 346.1 L244.9 345.3 L246.2 344.4 L247.5 343.4 L248.8 342.5 L250.1 341.5 L251.3 340.5 L252.5 339.5 L253.7 338.4 L254.9 337.3 L256.1 336.2 L257.2 335.1 L258.3 333.9 L259.4 332.8 L260.5 331.6 L261.6 330.3 L262.6 329.1 L263.6 327.9 L264.6 326.6 L265.5 325.3 L266.5 324.0 L267.4 322.7 L268.3 321.3 L269.1 320.0 L270.0 318.6 L270.8 317.3 L271.6 315.9 L272.4 314.5 L273.2 313.1 L274.0 311.7 L274.7 310.3 L275.5 308.8 L276.2 307.4 L276.9 305.9 L277.6 304.5 L278.2 303.0 L278.9 301.6 L279.6 300.1 L280.2 298.6 L280.8 297.2 L281.4 295.7 L282.0 294.2 L282.6 292.7 L283.2 291.2 L283.8 289.7 L284.3 288.2 L284.9 286.7 L285.5 285.2 L286.0 283.7 L286.5 282.2 L287.1 280.6 L287.6 279.1 L288.1 277.6 L288.6 276.1 L289.1 274.6 L289.6 273.0 L290.1 271.5 L290.6 270.0 L291.0 268.4 L291.5 266.9 L292.0 265.4 L292.5 263.8 L292.9 262.3 L293.4 260.8 L293.8 259.2 L294.3 257.7 L294.8 256.2 L295.2 254.6 L295.7 253.1 L296.1 251.5 L296.6 250.0 L297.0 248.5 L297.4 246.9 L297.9 245.4 L298.3 243.8 L298.8 242.3 L299.2 240.7 L299.7 239.2 L300.2 237.7 L300.6 236.1 L301.1 234.6 L301.5 233.1 L302.0 231.5 L302.5 230.0 L303.0 228.5 L303.5 226.9 L304.0 225.4 L304.5 223.9 L305.0 222.4 L305.5 220.9 L306.1 219.4 L306.7 217.9 L307.3 216.4 L307.9 214.9 L308.5 213.4 L309.3 212.0 L310.0 210.6 L310.9 209.2 L311.8 207.9 L313.0 206.8 L314.3 206.0 L315.9 205.9 L317.4 206.5 L318.6 207.5 L319.6 208.8 L320.5 210.1 L321.2 211.5 L322.0 213.0 L322.6 214.4 L323.3 215.9 L323.9 217.4 L324.4 218.9 L325.0 220.4 L325.5 221.9 L326.0 223.4 L326.5 225.0 L327.0 226.5 L327.5 228.0 L328.0 229.6 L328.5 231.1 L328.9 232.6 L329.4 234.2 L329.8 235.7 L330.3 237.2 L330.7 238.8 L331.2 240.3 L331.6 241.9 L332.0 243.4 L332.5 245.0 L332.9 246.5 L333.3 248.1 L333.8 249.6 L334.2 251.1 L334.6 252.7 L335.1 254.2 L335.5 255.8 L335.9 257.3 L336.4 258.9 L336.8 260.4 L337.3 262.0 L337.7 263.5 L338.2 265.0 L338.6 266.6 L339.1 268.1 L339.5 269.7 L340.0 271.2 L340.4 272.7 L340.9 274.3 L341.4 275.8 L341.9 277.3 L342.4 278.9 L342.9 280.4 L343.4 281.9 L343.9 283.4 L344.4 285.0 L344.9 286.5 L345.4 288.0 L345.9 289.5 L346.5 291.0 L347.0 292.5 L347.6 294.0 L348.2 295.5 L348.7 297.0 L349.3 298.5 L349.9 300.0 L350.5 301.5 L351.1 303.0 L351.8 304.5 L352.4 305.9 L353.1 307.4 L353.7 308.8 L354.4 310.3 L355.1 311.7 L355.8 313.2 L356.6 314.6 L357.3 316.0 L358.1 317.4 L358.8 318.8 L359.6 320.2 L360.5 321.6 L361.3 323.0 L362.1 324.4 L363.0 325.7 L363.9 327.0 L364.8 328.4 L365.8 329.7 L366.7 330.9 L367.7 332.2 L368.7 333.5 L369.7 334.7 L370.8 335.9 L371.9 337.1 L373.0 338.3 L374.1 339.4 L375.2 340.5 L376.4 341.6 L377.6 342.7 L378.8 343.8 L380.0 344.8 L381.3 345.8 L382.6 346.8 L383.9 347.7 L385.2 348.6 L386.5 349.5 L387.9 350.4 L389.3 351.2 L390.6 352.0 L392.1 352.8 L393.5 353.5 L394.9 354.2 L396.3 354.9 L397.8 355.6 L399.3 356.3 L400.8 356.9 L402.2 357.5 L403.7 358.1 L405.2 358.6 L406.8 359.2 L408.3 359.7 L409.8 360.2 L411.3 360.7 L412.9 361.1 L414.4 361.6 L416.0 362.0 L417.5 362.4 L419.1 362.8 L420.6 363.2 L422.2 363.5 L423.8 363.9 L425.3 364.2 L426.9 364.6 L428.5 364.9 L430.0 365.2 L431.6 365.5 L433.2 365.8 L434.8 366.0 L436.4 366.3 L437.9 366.5 L439.5 366.8 L441.1 367.0 L442.7 367.3 L444.3 367.5 L445.9 367.7 L447.5 367.9 L449.1 368.1 L450.7 368.3 L452.3 368.5 L453.9 368.7 L455.4 368.8 L457.0 369.0 L458.6 369.2 L460.2 369.3 L461.8 369.5 L463.4 369.7 L465.0 369.8 L466.6 369.9 L468.2 370.1 L469.8 370.2 L471.4 370.3 L473.0 370.5 L474.6 370.6 L476.2 370.7 L477.8 370.8 L479.4 370.9 L481.0 371.1 L482.6 371.2 L484.2 371.3 L485.8 371.4 L487.4 371.5 L489.0 371.6 L490.6 371.7 L492.2 371.8 L493.8 371.8 L495.4 371.9 L497.0 372.0 L498.7 372.1 L500.3 372.2 L501.9 372.3 L503.5 372.3 L505.1 372.4 L506.7 372.5 L508.3 372.6 L509.9 372.6 L511.5 372.7 L513.1 372.8 L514.7 372.8 L516.3 372.9 L517.9 373.0 L519.5 373.0 L521.1 373.1 L522.7 373.1 L524.3 373.2 L525.9 373.3 L527.5 373.3 L529.1 373.4 L530.7 373.4 L532.3 373.5 L533.9 373.5 L535.5 373.6 L537.1 373.6 L538.7 373.7 L540.3 373.7 L541.9 373.8 L543.6 373.8 L545.2 373.9 L546.8 373.9 L548.4 373.9 L550.0 374.0 L551.6 374.0 L553.2 374.1 L554.8 374.1 L556.4 374.1 L558.0 374.2 L559.6 374.2 L561.2 374.3 L562.8 374.3 L564.4 374.3 L566.0 374.4 L567.6 374.4 L569.2 374.4 L570.8 374.5 L572.4 374.5 L574.0 374.5 L575.6 374.6 L577.2 374.6 L578.8 374.6 L580.5 374.7 L582.1 374.7 L583.7 374.7 L585.3 374.7 L586.9 374.8 L588.5 374.8 L590.1 374.8 L591.7 374.9 L593.3 374.9 L594.9 374.9 L596.5 374.9 L598.1 375.0 L599.7 375.0 L601.3 375.0 L602.9 375.0 L604.5 375.1 L606.1 375.1 L607.7 375.1 L609.3 375.1 L610.9 375.1 L612.5 375.2 L614.2 375.2 L615.8 375.2 L617.4 375.2 L619.0 375.3 L620.6 375.3 L622.2 375.3 L623.8 375.3 L625.4 375.3 L627.0 375.4 L628.6 375.4 L630.2 375.4 L631.8 375.4 L633.4 375.4 L635.0 375.4 L636.6 375.5 L638.2 375.5 L639.8 375.5 L641.4 375.5 L643.0 375.5 L644.6 375.6 L646.2 375.6 L647.9 375.6 L649.5 375.6 L651.1 375.6 L652.7 375.6 L654.3 375.7 L655.9 375.7 L657.5 375.7 L659.1 375.7 L660.7 375.7 L662.3 375.7 L663.9 375.7 L665.5 375.8 L667.1 375.8 L668.7 375.8 L670.3 375.8 L671.9 375.8 L673.5 375.8 L675.1 375.8 L676.7 375.9 L678.3 375.9 L679.9 375.9 L681.6 375.9 L683.2 375.9 L684.8 375.9 L686.4 375.9 L688.0 375.9 L689.6 376.0 L691.2 376.0 L692.8 376.0 L694.4 376.0 L696.0 376.0 L697.6 376.0 L699.2 376.0 L700.8 376.0 L702.4 376.1 L704.0 376.1 L705.6 376.1 L707.2 376.1 L708.8 376.1 L710.4 376.1 L712.0 376.1 L713.6 376.1 L715.3 376.1 L716.9 376.2 L718.5 376.2 L720.1 376.2 L721.7 376.2 L723.3 376.2 L724.9 376.2 L726.5 376.2 L728.1 376.2 L729.7 376.2 L731.3 376.2 L732.9 376.3 L734.5 376.3 L736.1 376.3 L737.7 376.3 L739.3 376.3 L740.9 376.3 L742.5 376.3 L744.1 376.3 L745.7 376.3 L747.3 376.3 L749.0 376.3 L750.6 376.4 L752.2 376.4 L753.8 376.4 L755.4 376.4 L757.0 376.4 L758.6 376.4 L760.2 376.4 L761.8 376.4 L763.4 376.4 L765.0 376.4 L766.6 376.4 L768.2 376.4 L769.8 376.5 L771.4 376.5 L773.0 376.5 L774.6 376.5 L776.2 376.5 L777.8 376.5 L779.4 376.5 L781.0 376.5 L782.7 376.5 L784.3 376.5 L785.9 376.5 L787.5 376.5 L789.1 376.5 L790.7 376.6 L792.3 376.6 L793.9 376.6 L795.5 376.6 L797.1 376.6 L798.7 376.6 L800.3 376.6 L801.9 376.6 L803.5 376.6 L805.1 376.6 L806.7 376.6 L808.3 376.6 L809.9 376.6 L811.5 376.6 L813.1 376.6" stroke="#ff0000" stroke-linecap="square"/>
<path d="M108.8 427.6 L110.4 427.6 L112.0 427.6 L113.6 427.6 L115.2 427.7 L116.8 427.7 L118.4 427.8 L120.0 427.8 L121.6 427.9 L123.2 427.9 L124.9 428.0 L126.5 428.1 L128.1 428.2 L129.7 428.2 L131.3 428.3 L132.9 428.4 L134.5 428.5 L136.1 428.6 L137.7 428.7 L139.3 428.8 L140.9 428.9 L142.5 429.1 L144.1 429.2 L145.7 429.3 L147.3 429.5 L148.9 429.6 L150.5 429.8 L152.1 429.9 L153.7 430.1 L155.3 430.3 L156.9 430.4 L158.5 430.6 L160.1 430.8 L161.7 431.0 L163.3 431.2 L164.8 431.4 L166.4 431.6 L168.0 431.8 L169.6 432.1 L171.2 432.3 L172.8 432.6 L174.4 432.8 L176.0 433.1 L177.5 433.3 L179.1 433.6 L180.7 433.9 L182.3 434.2 L183.9 434.5 L185.4 434.8 L187.0 435.1 L188.6 435.4 L190.2 435.8 L191.7 436.1 L193.3 436.5 L194.9 436.8 L196.4 437.2 L198.0 437.6 L199.5 438.0 L201.1 438.4 L202.6 438.8 L204.2 439.2 L205.7 439.6 L207.3 440.1 L208.8 440.5 L210.4 441.0 L211.9 441.5 L213.4 442.0 L215.0 442.5 L216.5 443.0 L218.0 443.5 L219.5 444.1 L221.0 444.6 L222.5 445.2 L224.0 445.7 L225.5 446.3 L227.0 446.9 L228.5 447.5 L230.0 448.2 L231.4 448.8 L232.9 449.4 L234.4 450.1 L235.8 450.8 L237.3 451.5 L238.7 452.2 L240.2 452.9 L241.6 453.6 L243.0 454.3 L244.5 455.1 L245.9 455.8 L247.3 456.6 L248.7 457.4 L250.1 458.2 L251.5 459.0 L252.9 459.8 L254.3 460.6 L255.6 461.4 L257.0 462.2 L258.4 463.0 L259.8 463.8 L261.2 464.7 L262.5 465.5 L263.9 466.3 L265.3 467.1 L266.7 468.0 L268.1 468.7 L269.5 469.5 L270.9 470.3 L272.3 471.0 L273.8 471.7 L275.3 472.3 L276.8 472.9 L278.3 473.4 L279.8 473.8 L281.4 474.1 L283.0 474.2 L284.6 474.1 L286.2 473.8 L287.7 473.2 L289.1 472.5 L290.4 471.5 L291.6 470.5 L292.7 469.3 L293.7 468.0 L294.6 466.7 L295.5 465.4 L296.3 464.0 L297.0 462.5 L297.7 461.1 L298.4 459.6 L299.0 458.2 L299.6 456.7 L300.2 455.2 L300.7 453.6 L301.2 452.1 L301.7 450.6 L302.2 449.1 L302.7 447.5 L303.1 446.0 L303.6 444.4 L304.0 442.9 L304.4 441.3 L304.8 439.8 L305.2 438.2 L305.6 436.7 L306.0 435.1 L306.4 433.6 L306.7 432.0 L307.1 430.4 L307.4 428.9 L307.8 427.3 L308.1 425.7 L308.5 424.2 L308.8 422.6 L309.1 421.0 L309.5 419.4 L309.8 417.9 L310.1 416.3 L310.4 414.7 L310.7 413.1 L311.0 411.6 L311.3 410.0 L311.6 408.4 L311.9 406.8 L312.2 405.3 L312.5 403.7 L312.8 402.1 L313.1 400.5 L313.4 398.9 L313.7 397.4 L314.0 395.8 L314.3 394.2 L314.6 392.6 L314.9 391.1 L315.2 389.5 L315.5 387.9 L315.8 386.3 L316.1 384.7 L316.4 383.2 L316.7 381.6 L316.9 380.0 L317.2 378.4 L317.5 376.8 L317.8 375.3 L318.1 373.7 L318.4 372.1 L318.7 370.5 L319.0 368.9 L319.3 367.4 L319.6 365.8 L319.9 364.2 L320.2 362.6 L320.6 361.1 L320.9 359.5 L321.2 357.9 L321.5 356.3 L321.8 354.8 L322.2 353.2 L322.5 351.6 L322.8 350.1 L323.2 348.5 L323.5 346.9 L323.9 345.4 L324.2 343.8 L324.6 342.2 L325.0 340.7 L325.3 339.1 L325.7 337.5 L326.1 336.0 L326.5 334.4 L326.9 332.9 L327.4 331.3 L327.8 329.8 L328.3 328.2 L328.7 326.7 L329.2 325.2 L329.7 323.7 L330.2 322.1 L330.8 320.6 L331.4 319.1 L332.0 317.6 L332.6 316.2 L333.3 314.7 L334.0 313.3 L334.7 311.8 L335.5 310.4 L336.4 309.1 L337.4 307.8 L338.4 306.6 L339.6 305.5 L340.8 304.5 L342.2 303.7 L343.7 303.1 L345.3 302.8 L346.9 302.7 L348.5 302.8 L350.0 303.1 L351.6 303.6 L353.1 304.1 L354.6 304.8 L356.0 305.5 L357.4 306.3 L358.8 307.1 L360.2 307.9 L361.5 308.8 L362.9 309.6 L364.2 310.5 L365.6 311.4 L366.9 312.3 L368.2 313.2 L369.5 314.1 L370.9 315.0 L372.2 315.9 L373.5 316.8 L374.9 317.7 L376.2 318.6 L377.5 319.5 L378.9 320.4 L380.2 321.2 L381.6 322.1 L383.0 322.9 L384.3 323.8 L385.7 324.6 L387.1 325.4 L388.5 326.2 L389.9 327.0 L391.3 327.8 L392.7 328.6 L394.1 329.3 L395.5 330.1 L396.9 330.8 L398.4 331.5 L399.8 332.2 L401.3 332.9 L402.7 333.6 L404.2 334.3 L405.6 335.0 L407.1 335.6 L408.6 336.3 L410.1 336.9 L411.5 337.5 L413.0 338.1 L414.5 338.7 L416.0 339.3 L417.5 339.8 L419.0 340.4 L420.5 340.9 L422.1 341.5 L423.6 342.0 L425.1 342.5 L426.6 343.0 L428.2 343.5 L429.7 344.0 L431.2 344.5 L432.8 344.9 L434.3 345.4 L435.8 345.8 L437.4 346.3 L438.9 346.7 L440.5 347.1 L442.0 347.5 L443.6 347.9 L445.1 348.3 L446.7 348.7 L448.3 349.1 L449.8 349.5 L451.4 349.8 L453.0 350.2 L454.5 350.5 L456.1 350.9 L457.7 351.2 L459.2 351.5 L460.8 351.9 L462.4 352.2 L464.0 352.5 L465.5 352.8 L467.1 353.1 L468.7 353.4 L470.3 353.7 L471.8 354.0 L473.4 354.3 L475.0 354.5 L476.6 354.8 L478.2 355.1 L479.8 355.3 L481.4 355.6 L482.9 355.8 L484.5 356.1 L486.1 356.3 L487.7 356.5 L489.3 356.8 L490.9 357.0 L492.5 357.2 L494.1 357.4 L495.7 357.7 L497.2 357.9 L498.8 358.1 L500.4 358.3 L502.0 358.5 L503.6 358.7 L505.2 358.9 L506.8 359.1 L508.4 359.3 L510.0 359.5 L511.6 359.6 L513.2 359.8 L514.8 360.0 L516.4 360.2 L518.0 360.3 L519.6 360.5 L521.2 360.7 L522.8 360.8 L524.4 361.0 L526.0 361.2 L527.6 361.3 L529.2 361.5 L530.8 361.6 L532.4 361.8 L534.0 361.9 L535.6 362.1 L537.2 362.2 L538.8 362.3 L540.4 362.5 L542.0 362.6 L543.6 362.8 L545.2 362.9 L546.8 363.0 L548.4 363.1 L550.0 363.3 L551.6 363.4 L553.2 363.5 L554.8 363.6 L556.4 363.8 L558.0 363.9 L559.6 364.0 L561.2 364.1 L562.8 364.2 L564.4 364.3 L566.0 364.4 L567.6 364.5 L569.2 364.7 L570.8 364.8 L572.4 364.9 L574.0 365.0 L575.6 365.1 L577.2 365.2 L578.8 365.3 L580.4 365.4 L582.0 365.5 L583.6 365.6 L585.2 365.6 L586.8 365.7 L588.4 365.8 L590.0 365.9 L591.6 366.0 L593.2 366.1 L594.8 366.2 L596.4 366.3 L598.0 366.4 L599.6 366.4 L601.2 366.5 L602.8 366.6 L604.5 366.7 L606.1 366.8 L607.7 366.8 L609.3 366.9 L610.9 367.0 L612.5 367.1 L614.1 367.1 L615.7 367.2 L617.3 367.3 L618.9 367.4 L620.5 367.4 L622.1 367.5 L623.7 367.6 L625.3 367.6 L626.9 367.7 L628.5 367.8 L630.1 367.8 L631.7 367.9 L633.3 368.0 L634.9 368.0 L636.5 368.1 L638.1 368.2 L639.8 368.2 L641.4 368.3 L643.0 368.3 L644.6 368.4 L646.2 368.5 L647.8 368.5 L649.4 368.6 L651.0 368.6 L652.6 368.7 L654.2 368.8 L655.8 368.8 L657.4 368.9 L659.0 368.9 L660.6 369.0 L662.2 369.0 L663.8 369.1 L665.4 369.1 L667.0 369.2 L668.6 369.2 L670.2 369.3 L671.9 369.3 L673.5 369.4 L675.1 369.4 L676.7 369.5 L678.3 369.5 L679.9 369.6 L681.5 369.6 L683.1 369.7 L684.7 369.7 L686.3 369.8 L687.9 369.8 L689.5 369.8 L691.1 369.9 L692.7 369.9 L694.3 370.0 L695.9 370.0 L697.5 370.1 L699.1 370.1 L700.7 370.1 L702.4 370.2 L704.0 370.2 L705.6 370.3 L707.2 370.3 L708.8 370.3 L710.4 370.4 L712.0 370.4 L713.6 370.5 L715.2 370.5 L716.8 370.5 L718.4 370.6 L720.0 370.6 L721.6 370.6 L723.2 370.7 L724.8 370.7 L726.4 370.8 L728.0 370.8 L729.6 370.8 L731.3 370.9 L732.9 370.9 L734.5 370.9 L736.1 371.0 L737.7 371.0 L739.3 371.0 L740.9 371.1 L742.5 371.1 L744.1 371.1 L745.7 371.2 L747.3 371.2 L748.9 371.2 L750.5 371.2 L752.1 371.3 L753.7 371.3 L755.3 371.3 L756.9 371.4 L758.5 371.4 L760.2 371.4 L761.8 371.5 L763.4 371.5 L765.0 371.5 L766.6 371.5 L768.2 371.6 L769.8 371.6 L771.4 371.6 L773.0 371.7 L774.6 371.7 L776.2 371.7 L777.8 371.7 L779.4 371.8 L781.0 371.8 L782.6 371.8 L784.2 371.8 L785.8 371.9 L787.5 371.9 L789.1 371.9 L790.7 371.9 L792.3 372.0 L793.9 372.0 L795.5 372.0 L797.1 372.0 L798.7 372.1 L800.3 372.1 L801.9 372.1 L803.5 372.1 L805.1 372.2 L806.7 372.2 L808.3 372.2 L809.9 372.2 L811.5 372.2 L813.1 372.3" stroke="#ff0000" stroke-dasharray="1.8 6.5" stroke-dashoffset="0.5"/>
<path d="M108.8 361.5 L110.4 361.4 L112.0 361.4 L113.6 361.3 L115.2 361.2 L116.8 361.1 L118.4 361.0 L120.0 360.9 L121.6 360.7 L123.2 360.5 L124.8 360.3 L126.4 360.1 L128.0 359.9 L129.5 359.6 L131.1 359.3 L132.7 359.0 L134.3 358.7 L135.8 358.4 L137.4 358.0 L138.9 357.6 L140.5 357.2 L142.0 356.7 L143.5 356.2 L145.1 355.7 L146.6 355.1 L148.1 354.6 L149.5 353.9 L151.0 353.3 L152.5 352.6 L153.9 351.9 L155.3 351.1 L156.7 350.3 L158.0 349.4 L159.4 348.6 L160.7 347.6 L162.0 346.7 L163.2 345.7 L164.5 344.6 L165.6 343.6 L166.8 342.5 L167.9 341.3 L169.0 340.2 L170.1 339.0 L171.1 337.7 L172.1 336.5 L173.1 335.2 L174.0 333.9 L174.9 332.6 L175.8 331.2 L176.7 329.9 L177.5 328.5 L178.3 327.1 L179.0 325.7 L179.8 324.3 L180.5 322.8 L181.2 321.4 L181.8 319.9 L182.5 318.5 L183.1 317.0 L183.7 315.5 L184.3 314.0 L184.9 312.5 L185.4 311.0 L186.0 309.5 L186.5 308.0 L187.0 306.4 L187.5 304.9 L188.0 303.4 L188.4 301.9 L188.9 300.3 L189.3 298.8 L189.7 297.2 L190.2 295.7 L190.6 294.1 L191.0 292.6 L191.4 291.0 L191.7 289.5 L192.1 287.9 L192.5 286.3 L192.8 284.8 L193.2 283.2 L193.5 281.7 L193.8 280.1 L194.2 278.5 L194.5 276.9 L194.8 275.4 L195.1 273.8 L195.4 272.2 L195.7 270.6 L196.0 269.1 L196.3 267.5 L196.6 265.9 L196.8 264.3 L197.1 262.7 L197.4 261.2 L197.6 259.6 L197.9 258.0 L198.1 256.4 L198.4 254.8 L198.6 253.3 L198.9 251.7 L199.1 250.1 L199.3 248.5 L199.6 246.9 L199.8 245.3 L200.0 243.7 L200.2 242.1 L200.5 240.6 L200.7 239.0 L200.9 237.4 L201.1 235.8 L201.3 234.2 L201.5 232.6 L201.7 231.0 L201.9 229.4 L202.1 227.8 L202.3 226.2 L202.5 224.6 L202.7 223.1 L202.9 221.5 L203.0 219.9 L203.2 218.3 L203.4 216.7 L203.6 215.1 L203.8 213.5 L203.9 211.9 L204.1 210.3 L204.3 208.7 L204.5 207.1 L204.6 205.5 L204.8 203.9 L205.0 202.3 L205.1 200.7 L205.3 199.2 L205.5 197.6 L205.6 196.0 L205.8 194.4 L206.0 192.8 L206.1 191.2 L206.3 189.6 L206.4 188.0 L206.6 186.4 L206.7 184.8 L206.9 183.2 L207.0 181.6 L207.2 180.0 L207.3 178.4 L207.5 176.8 L207.6 175.2 L207.8 173.6 L207.9 172.0 L208.1 170.4 L208.2 168.8 L208.4 167.2 L208.5 165.6 L208.7 164.0 L208.8 162.4 L209.0 160.8 L209.1 159.2 L209.3 157.7 L209.4 156.1 L209.5 154.5 L209.7 152.9 L209.8 151.3 L210.0 149.7 L210.1 148.1 L210.2 146.5 L210.4 144.9 L210.5 143.3 L210.7 141.7 L210.8 140.1 L210.9 138.5 L211.1 136.9 L211.2 135.3 L211.4 133.7 L211.5 132.1 L211.7 130.5 L211.8 128.9 L211.9 127.3 L212.1 125.7 L212.2 124.1 L212.4 122.5 L212.5 120.9 L212.6 119.3 L212.8 117.7 L212.9 116.1 L213.1 114.5 L213.2 112.9 L213.4 111.3 L213.5 109.7 L213.7 108.1 L213.8 106.5 L214.0 105.0 L214.1 103.4 L214.3 101.8 L214.5 100.2 L214.6 98.6 L214.8 97.0 L214.9 95.4 L215.1 93.8 L215.3 92.2 L215.4 90.6 L215.6 89.0 L215.8 87.4 L216.0 85.8 L216.2 84.2 L216.4 82.6 L216.6 81.0 L216.8 79.5 L217.0 77.9 L217.2 76.3 L217.4 74.7 L217.7 73.1 L217.9 71.5 L218.2 69.9 L218.5 68.4 L218.9 66.8 L219.3 65.3 L219.8 63.7 L220.6 62.4 L221.9 62.8 L222.5 64.2 L223.0 65.7 L223.4 67.3 L223.7 68.9 L224.0 70.5 L224.3 72.0 L224.5 73.6 L224.8 75.2 L225.0 76.8 L225.2 78.4 L225.4 80.0 L225.6 81.6 L225.8 83.1 L226.0 84.7 L226.2 86.3 L226.4 87.9 L226.6 89.5 L226.7 91.1 L226.9 92.7 L227.1 94.3 L227.2 95.9 L227.4 97.5 L227.6 99.1 L227.7 100.7 L227.9 102.3 L228.0 103.9 L228.2 105.5 L228.3 107.1 L228.5 108.7 L228.6 110.3 L228.8 111.9 L228.9 113.5 L229.1 115.0 L229.2 116.6 L229.3 118.2 L229.5 119.8 L229.6 121.4 L229.8 123.0 L229.9 124.6 L230.1 126.2 L230.2 127.8 L230.3 129.4 L230.5 131.0 L230.6 132.6 L230.8 134.2 L230.9 135.8 L231.0 137.4 L231.2 139.0 L231.3 140.6 L231.4 142.2 L231.6 143.8 L231.7 145.4 L231.9 147.0 L232.0 148.6 L232.1 150.2 L232.3 151.8 L232.4 153.4 L232.6 155.0 L232.7 156.6 L232.8 158.2 L233.0 159.8 L233.1 161.4 L233.3 163.0 L233.4 164.6 L233.5 166.2 L233.7 167.8 L233.8 169.4 L234.0 171.0 L234.1 172.5 L234.3 174.1 L234.4 175.7 L234.6 177.3 L234.7 178.9 L234.9 180.5 L235.0 182.1 L235.2 183.7 L235.3 185.3 L235.5 186.9 L235.6 188.5 L235.8 190.1 L235.9 191.7 L236.1 193.3 L236.2 194.9 L236.4 196.5 L236.5 198.1 L236.7 199.7 L236.9 201.3 L237.0 202.9 L237.2 204.5 L237.4 206.1 L237.5 207.7 L237.7 209.3 L237.9 210.8 L238.0 212.4 L238.2 214.0 L238.4 215.6 L238.6 217.2 L238.7 218.8 L238.9 220.4 L239.1 222.0 L239.3 223.6 L239.5 225.2 L239.7 226.8 L239.8 228.4 L240.0 230.0 L240.2 231.6 L240.4 233.1 L240.6 234.7 L240.8 236.3 L241.0 237.9 L241.2 239.5 L241.4 241.1 L241.7 242.7 L241.9 244.3 L242.1 245.9 L242.3 247.5 L242.5 249.0 L242.7 250.6 L243.0 252.2 L243.2 253.8 L243.4 255.4 L243.7 257.0 L243.9 258.6 L244.2 260.1 L244.4 261.7 L244.7 263.3 L244.9 264.9 L245.2 266.5 L245.5 268.1 L245.7 269.6 L246.0 271.2 L246.3 272.8 L246.6 274.4 L246.9 275.9 L247.2 277.5 L247.5 279.1 L247.8 280.7 L248.1 282.2 L248.4 283.8 L248.8 285.4 L249.1 286.9 L249.5 288.5 L249.8 290.1 L250.2 291.6 L250.5 293.2 L250.9 294.8 L251.3 296.3 L251.7 297.9 L252.1 299.4 L252.5 301.0 L253.0 302.5 L253.4 304.1 L253.9 305.6 L254.3 307.1 L254.8 308.7 L255.3 310.2 L255.8 311.7 L256.3 313.2 L256.8 314.7 L257.4 316.2 L258.0 317.7 L258.5 319.2 L259.2 320.7 L259.8 322.2 L260.4 323.7 L261.1 325.1 L261.8 326.6 L262.5 328.0 L263.2 329.4 L264.0 330.8 L264.8 332.2 L265.6 333.6 L266.4 335.0 L267.3 336.3 L268.2 337.7 L269.1 339.0 L270.0 340.3 L271.0 341.5 L272.1 342.8 L273.1 344.0 L274.2 345.2 L275.3 346.3 L276.4 347.4 L277.6 348.5 L278.8 349.6 L280.0 350.6 L281.3 351.6 L282.6 352.6 L283.9 353.5 L285.2 354.4 L286.6 355.2 L288.0 356.1 L289.4 356.8 L290.8 357.6 L292.2 358.3 L293.7 359.0 L295.1 359.6 L296.6 360.3 L298.1 360.9 L299.6 361.4 L301.1 362.0 L302.6 362.5 L304.2 363.0 L305.7 363.5 L307.2 363.9 L308.8 364.3 L310.3 364.8 L311.9 365.2 L313.4 365.5 L315.0 365.9 L316.6 366.2 L318.1 366.6 L319.7 366.9 L321.3 367.2 L322.9 367.5 L324.4 367.7 L326.0 368.0 L327.6 368.3 L329.2 368.5 L330.8 368.7 L332.4 369.0 L333.9 369.2 L335.5 369.4 L337.1 369.6 L338.7 369.8 L340.3 370.0 L341.9 370.1 L343.5 370.3 L345.1 370.5 L346.7 370.6 L348.3 370.8 L349.9 370.9 L351.5 371.1 L353.1 371.2 L354.7 371.3 L356.3 371.5 L357.9 371.6 L359.5 371.7 L361.1 371.8 L362.7 371.9 L364.3 372.1 L365.9 372.2 L367.5 372.3 L369.1 372.4 L370.7 372.5 L372.3 372.6 L373.9 372.6 L375.5 372.7 L377.1 372.8 L378.7 372.9 L380.3 373.0 L381.9 373.1 L383.5 373.1 L385.1 373.2 L386.7 373.3 L388.3 373.4 L389.9 373.4 L391.5 373.5 L393.1 373.6 L394.7 373.6 L396.3 373.7 L397.9 373.7 L399.5 373.8 L401.1 373.9 L402.7 373.9 L404.3 374.0 L405.9 374.0 L407.5 374.1 L409.1 374.1 L410.7 374.2 L412.3 374.2 L413.9 374.3 L415.5 374.3 L417.1 374.4 L418.7 374.4 L420.3 374.5 L421.9 374.5 L423.5 374.5 L425.1 374.6 L426.7 374.6 L428.3 374.7 L430.0 374.7 L431.6 374.7 L433.2 374.8 L434.8 374.8 L436.4 374.8 L438.0 374.9 L439.6 374.9 L441.2 374.9 L442.8 375.0 L444.4 375.0 L446.0 375.0 L447.6 375.1 L449.2 375.1 L450.8 375.1 L452.4 375.1 L454.0 375.2 L455.6 375.2 L457.2 375.2 L458.8 375.3 L460.4 375.3 L462.0 375.3 L463.6 375.3 L465.2 375.4 L466.8 375.4 L468.4 375.4 L470.0 375.4 L471.6 375.5 L473.2 375.5 L474.8 375.5 L476.4 375.5 L478.0 375.5 L479.6 375.6 L481.3 375.6 L482.9 375.6 L484.5 375.6 L486.1 375.6 L487.7 375.7 L489.3 375.7 L490.9 375.7 L492.5 375.7 L494.1 375.7 L495.7 375.7 L497.3 375.8 L498.9 375.8 L500.5 375.8 L502.1 375.8 L503.7 375.8 L505.3 375.8 L506.9 375.9 L508.5 375.9 L510.1 375.9 L511.7 375.9 L513.3 375.9 L514.9 375.9 L516.5 376.0 L518.1 376.0 L519.7 376.0 L521.3 376.0 L522.9 376.0 L524.5 376.0 L526.1 376.0 L527.7 376.1 L529.3 376.1 L531.0 376.1 L532.6 376.1 L534.2 376.1 L535.8 376.1 L537.4 376.1 L539.0 376.1 L540.6 376.1 L542.2 376.2 L543.8 376.2 L545.4 376.2 L547.0 376.2 L548.6 376.2 L550.2 376.2 L551.8 376.2 L553.4 376.2 L555.0 376.2 L556.6 376.3 L558.2 376.3 L559.8 376.3 L561.4 376.3 L563.0 376.3 L564.6 376.3 L566.2 376.3 L567.8 376.3 L569.4 376.3 L571.0 376.3 L572.6 376.4 L574.2 376.4 L575.8 376.4 L577.4 376.4 L579.1 376.4 L580.7 376.4 L582.3 376.4 L583.9 376.4 L585.5 376.4 L587.1 376.4 L588.7 376.4 L590.3 376.4 L591.9 376.5 L593.5 376.5 L595.1 376.5 L596.7 376.5 L598.3 376.5 L599.9 376.5 L601.5 376.5 L603.1 376.5 L604.7 376.5 L606.3 376.5 L607.9 376.5 L609.5 376.5 L611.1 376.5 L612.7 376.5 L614.3 376.6 L615.9 376.6 L617.5 376.6 L619.1 376.6 L620.7 376.6 L622.3 376.6 L623.9 376.6 L625.6 376.6 L627.2 376.6 L628.8 376.6 L630.4 376.6 L632.0 376.6 L633.6 376.6 L635.2 376.6 L636.8 376.6 L638.4 376.6 L640.0 376.7 L641.6 376.7 L643.2 376.7 L644.8 376.7 L646.4 376.7 L648.0 376.7 L649.6 376.7 L651.2 376.7 L652.8 376.7 L654.4 376.7 L656.0 376.7 L657.6 376.7 L659.2 376.7 L660.8 376.7 L662.4 376.7 L664.0 376.7 L665.6 376.7 L667.2 376.7 L668.8 376.7 L670.4 376.7 L672.0 376.8 L673.7 376.8 L675.3 376.8 L676.9 376.8 L678.5 376.8 L680.1 376.8 L681.7 376.8 L683.3 376.8 L684.9 376.8 L686.5 376.8 L688.1 376.8 L689.7 376.8 L691.3 376.8 L692.9 376.8 L694.5 376.8 L696.1 376.8 L697.7 376.8 L699.3 376.8 L700.9 376.8 L702.5 376.8 L704.1 376.8 L705.7 376.8 L707.3 376.8 L708.9 376.8 L710.5 376.9 L712.1 376.9 L713.7 376.9 L715.3 376.9 L716.9 376.9 L718.5 376.9 L720.1 376.9 L721.8 376.9 L723.4 376.9 L725.0 376.9 L726.6 376.9 L728.2 376.9 L729.8 376.9 L731.4 376.9 L733.0 376.9 L734.6 376.9 L736.2 376.9 L737.8 376.9 L739.4 376.9 L741.0 376.9 L742.6 376.9 L744.2 376.9 L745.8 376.9 L747.4 376.9 L749.0 376.9 L750.6 376.9 L752.2 376.9 L753.8 376.9 L755.4 376.9 L757.0 376.9 L758.6 377.0 L760.2 377.0 L761.8 377.0 L763.4 377.0 L765.0 377.0 L766.6 377.0 L768.3 377.0 L769.9 377.0 L771.5 377.0 L773.1 377.0 L774.7 377.0 L776.3 377.0 L777.9 377.0 L779.5 377.0 L781.1 377.0 L782.7 377.0 L784.3 377.0 L785.9 377.0 L787.5 377.0 L789.1 377.0 L790.7 377.0 L792.3 377.0 L793.9 377.0 L795.5 377.0 L797.1 377.0 L798.7 377.0 L800.3 377.0 L801.9 377.0 L803.5 377.0 L805.1 377.0 L806.7 377.0 L808.3 377.0 L809.9 377.0 L811.5 377.0 L813.1 377.0" stroke="#800080" stroke-linecap="square"/>
<path d="M108.8 472.2 L110.4 472.3 L112.0 472.4 L113.6 472.5 L115.2 472.7 L116.8 472.9 L118.4 473.1 L120.0 473.4 L121.5 473.7 L123.1 474.0 L124.7 474.4 L126.2 474.8 L127.8 475.2 L129.3 475.6 L130.8 476.1 L132.3 476.7 L133.9 477.2 L135.3 477.8 L136.8 478.4 L138.3 479.1 L139.7 479.8 L141.2 480.5 L142.6 481.2 L144.0 482.0 L145.4 482.8 L146.8 483.6 L148.1 484.5 L149.5 485.4 L150.8 486.3 L152.1 487.2 L153.3 488.2 L154.6 489.2 L155.8 490.2 L157.1 491.3 L158.3 492.3 L159.4 493.4 L160.6 494.5 L161.7 495.7 L162.8 496.8 L163.9 498.0 L165.0 499.2 L166.1 500.4 L167.1 501.6 L168.1 502.9 L169.1 504.1 L170.1 505.4 L171.1 506.7 L172.0 508.0 L173.0 509.3 L173.9 510.6 L174.8 511.9 L175.6 513.3 L176.5 514.6 L177.4 516.0 L178.2 517.3 L179.0 518.7 L179.8 520.1 L180.6 521.5 L181.4 522.9 L182.2 524.3 L183.0 525.7 L183.7 527.1 L184.5 528.5 L185.2 529.9 L186.0 531.4 L186.7 532.8 L187.4 534.2 L188.1 535.7 L188.9 537.1 L189.6 538.5 L190.3 540.0 L191.0 541.4 L191.7 542.9 L192.4 544.3 L193.1 545.7 L193.9 547.2 L194.6 548.6 L195.4 550.0 L196.1 551.4 L196.9 552.8 L197.8 554.1 L198.7 555.5 L199.7 556.7 L200.8 557.9 L202.2 558.7 L203.8 558.7 L205.0 557.7 L205.9 556.4 L206.7 555.0 L207.2 553.5 L207.7 551.9 L208.2 550.4 L208.6 548.8 L208.9 547.3 L209.3 545.7 L209.6 544.1 L209.9 542.6 L210.2 541.0 L210.4 539.4 L210.7 537.8 L210.9 536.2 L211.1 534.6 L211.4 533.0 L211.6 531.5 L211.8 529.9 L212.0 528.3 L212.2 526.7 L212.3 525.1 L212.5 523.5 L212.7 521.9 L212.9 520.3 L213.0 518.7 L213.2 517.1 L213.4 515.5 L213.5 513.9 L213.7 512.3 L213.8 510.7 L214.0 509.1 L214.1 507.5 L214.2 505.9 L214.4 504.3 L214.5 502.7 L214.6 501.1 L214.8 499.5 L214.9 497.9 L215.0 496.3 L215.2 494.7 L215.3 493.1 L215.4 491.5 L215.5 489.9 L215.7 488.3 L215.8 486.7 L215.9 485.1 L216.0 483.5 L216.1 481.9 L216.2 480.3 L216.3 478.7 L216.5 477.1 L216.6 475.5 L216.7 473.9 L216.8 472.3 L216.9 470.7 L217.0 469.1 L217.1 467.5 L217.2 465.9 L217.3 464.3 L217.4 462.7 L217.5 461.1 L217.6 459.5 L217.7 457.9 L217.8 456.3 L217.9 454.7 L218.0 453.1 L218.1 451.5 L218.2 449.9 L218.3 448.3 L218.4 446.7 L218.5 445.1 L218.6 443.5 L218.7 441.9 L218.8 440.3 L218.9 438.7 L219.0 437.1 L219.1 435.5 L219.2 433.9 L219.3 432.3 L219.4 430.7 L219.4 429.1 L219.5 427.5 L219.6 425.9 L219.7 424.3 L219.8 422.7 L219.9 421.1 L220.0 419.5 L220.1 417.9 L220.2 416.3 L220.3 414.7 L220.4 413.1 L220.5 411.5 L220.5 409.9 L220.6 408.3 L220.7 406.7 L220.8 405.1 L220.9 403.5 L221.0 401.9 L221.1 400.3 L221.2 398.7 L221.3 397.1 L221.4 395.5 L221.4 393.9 L221.5 392.2 L221.6 390.6 L221.7 389.0 L221.8 387.4 L221.9 385.8 L222.0 384.2 L222.1 382.6 L222.2 381.0 L222.3 379.4 L222.4 377.8 L222.4 376.2 L222.5 374.6 L222.6 373.0 L222.7 371.4 L222.8 369.8 L222.9 368.2 L223.0 366.6 L223.1 365.0 L223.2 363.4 L223.3 361.8 L223.4 360.2 L223.5 358.6 L223.6 357.0 L223.7 355.4 L223.8 353.8 L223.9 352.2 L224.0 350.6 L224.1 349.0 L224.2 347.4 L224.3 345.8 L224.4 344.2 L224.5 342.6 L224.6 341.0 L224.7 339.4 L224.8 337.8 L224.9 336.2 L225.0 334.6 L225.1 333.0 L225.2 331.4 L225.3 329.8 L225.4 328.2 L225.5 326.6 L225.6 325.0 L225.7 323.4 L225.8 321.8 L225.9 320.2 L226.0 318.6 L226.2 317.0 L226.3 315.4 L226.4 313.8 L226.5 312.2 L226.6 310.6 L226.8 309.0 L226.9 307.4 L227.0 305.8 L227.1 304.2 L227.2 302.6 L227.4 301.0 L227.5 299.4 L227.6 297.8 L227.8 296.2 L227.9 294.6 L228.1 293.0 L228.2 291.4 L228.3 289.8 L228.5 288.2 L228.6 286.6 L228.8 285.0 L229.0 283.4 L229.1 281.8 L229.3 280.2 L229.5 278.6 L229.6 277.0 L229.8 275.4 L230.0 273.8 L230.2 272.2 L230.4 270.7 L230.6 269.1 L230.8 267.5 L231.0 265.9 L231.2 264.3 L231.5 262.7 L231.7 261.1 L232.0 259.5 L232.3 258.0 L232.6 256.4 L232.9 254.8 L233.2 253.2 L233.6 251.7 L234.0 250.1 L234.4 248.6 L234.9 247.1 L235.5 245.6 L236.3 244.2 L237.3 242.9 L238.7 242.2 L240.2 242.6 L241.5 243.6 L242.5 244.8 L243.5 246.1 L244.3 247.5 L245.1 248.8 L245.9 250.3 L246.6 251.7 L247.3 253.1 L248.0 254.6 L248.7 256.0 L249.4 257.4 L250.1 258.9 L250.8 260.4 L251.4 261.8 L252.1 263.3 L252.8 264.7 L253.5 266.2 L254.1 267.6 L254.8 269.1 L255.5 270.5 L256.2 272.0 L256.9 273.4 L257.6 274.9 L258.3 276.3 L259.0 277.7 L259.8 279.2 L260.5 280.6 L261.3 282.0 L262.0 283.4 L262.8 284.8 L263.6 286.2 L264.3 287.6 L265.1 289.0 L266.0 290.4 L266.8 291.8 L267.6 293.2 L268.5 294.5 L269.3 295.9 L270.2 297.2 L271.1 298.5 L272.0 299.9 L272.9 301.2 L273.9 302.5 L274.8 303.8 L275.8 305.1 L276.8 306.3 L277.8 307.6 L278.8 308.8 L279.8 310.0 L280.9 311.3 L281.9 312.5 L283.0 313.6 L284.1 314.8 L285.2 316.0 L286.4 317.1 L287.5 318.2 L288.7 319.3 L289.9 320.4 L291.0 321.5 L292.3 322.5 L293.5 323.6 L294.7 324.6 L296.0 325.6 L297.2 326.6 L298.5 327.5 L299.8 328.5 L301.1 329.4 L302.5 330.3 L303.8 331.2 L305.1 332.1 L306.5 332.9 L307.9 333.8 L309.3 334.6 L310.6 335.4 L312.1 336.2 L313.5 336.9 L314.9 337.7 L316.3 338.4 L317.7 339.1 L319.2 339.8 L320.6 340.5 L322.1 341.1 L323.6 341.8 L325.0 342.4 L326.5 343.1 L328.0 343.7 L329.5 344.2 L331.0 344.8 L332.5 345.4 L334.0 345.9 L335.5 346.5 L337.0 347.0 L338.6 347.5 L340.1 348.0 L341.6 348.5 L343.2 349.0 L344.7 349.4 L346.2 349.9 L347.8 350.3 L349.3 350.8 L350.9 351.2 L352.4 351.6 L354.0 352.0 L355.5 352.4 L357.1 352.8 L358.6 353.2 L360.2 353.5 L361.8 353.9 L363.3 354.2 L364.9 354.6 L366.5 354.9 L368.0 355.3 L369.6 355.6 L371.2 355.9 L372.7 356.2 L374.3 356.5 L375.9 356.8 L377.5 357.1 L379.1 357.4 L380.6 357.7 L382.2 357.9 L383.8 358.2 L385.4 358.5 L387.0 358.7 L388.6 359.0 L390.1 359.2 L391.7 359.4 L393.3 359.7 L394.9 359.9 L396.5 360.1 L398.1 360.4 L399.7 360.6 L401.3 360.8 L402.8 361.0 L404.4 361.2 L406.0 361.4 L407.6 361.6 L409.2 361.8 L410.8 362.0 L412.4 362.2 L414.0 362.4 L415.6 362.6 L417.2 362.7 L418.8 362.9 L420.4 363.1 L422.0 363.3 L423.6 363.4 L425.2 363.6 L426.8 363.7 L428.4 363.9 L429.9 364.1 L431.5 364.2 L433.1 364.4 L434.7 364.5 L436.3 364.6 L437.9 364.8 L439.5 364.9 L441.1 365.1 L442.7 365.2 L444.3 365.3 L445.9 365.5 L447.5 365.6 L449.1 365.7 L450.7 365.8 L452.3 366.0 L453.9 366.1 L455.5 366.2 L457.1 366.3 L458.7 366.4 L460.3 366.5 L461.9 366.7 L463.5 366.8 L465.1 366.9 L466.7 367.0 L468.3 367.1 L469.9 367.2 L471.5 367.3 L473.1 367.4 L474.7 367.5 L476.3 367.6 L477.9 367.7 L479.5 367.8 L481.1 367.9 L482.7 368.0 L484.3 368.1 L485.9 368.1 L487.6 368.2 L489.2 368.3 L490.8 368.4 L492.4 368.5 L494.0 368.6 L495.6 368.7 L497.2 368.7 L498.8 368.8 L500.4 368.9 L502.0 369.0 L503.6 369.1 L505.2 369.1 L506.8 369.2 L508.4 369.3 L510.0 369.3 L511.6 369.4 L513.2 369.5 L514.8 369.6 L516.4 369.6 L518.0 369.7 L519.6 369.8 L521.2 369.8 L522.8 369.9 L524.4 370.0 L526.0 370.0 L527.6 370.1 L529.2 370.2 L530.8 370.2 L532.4 370.3 L534.0 370.3 L535.6 370.4 L537.2 370.5 L538.8 370.5 L540.4 370.6 L542.0 370.6 L543.7 370.7 L545.3 370.7 L546.9 370.8 L548.5 370.8 L550.1 370.9 L551.7 370.9 L553.3 371.0 L554.9 371.1 L556.5 371.1 L558.1 371.2 L559.7 371.2 L561.3 371.3 L562.9 371.3 L564.5 371.3 L566.1 371.4 L567.7 371.4 L569.3 371.5 L570.9 371.5 L572.5 371.6 L574.1 371.6 L575.7 371.7 L577.3 371.7 L578.9 371.8 L580.5 371.8 L582.1 371.8 L583.7 371.9 L585.3 371.9 L587.0 372.0 L588.6 372.0 L590.2 372.0 L591.8 372.1 L593.4 372.1 L595.0 372.2 L596.6 372.2 L598.2 372.2 L599.8 372.3 L601.4 372.3 L603.0 372.4 L604.6 372.4 L606.2 372.4 L607.8 372.5 L609.4 372.5 L611.0 372.5 L612.6 372.6 L614.2 372.6 L615.8 372.6 L617.4 372.7 L619.0 372.7 L620.6 372.7 L622.2 372.8 L623.8 372.8 L625.4 372.8 L627.1 372.9 L628.7 372.9 L630.3 372.9 L631.9 373.0 L633.5 373.0 L635.1 373.0 L636.7 373.0 L638.3 373.1 L639.9 373.1 L641.5 373.1 L643.1 373.2 L644.7 373.2 L646.3 373.2 L647.9 373.2 L649.5 373.3 L651.1 373.3 L652.7 373.3 L654.3 373.4 L655.9 373.4 L657.5 373.4 L659.1 373.4 L660.7 373.5 L662.3 373.5 L663.9 373.5 L665.5 373.5 L667.2 373.6 L668.8 373.6 L670.4 373.6 L672.0 373.6 L673.6 373.7 L675.2 373.7 L676.8 373.7 L678.4 373.7 L680.0 373.8 L681.6 373.8 L683.2 373.8 L684.8 373.8 L686.4 373.8 L688.0 373.9 L689.6 373.9 L691.2 373.9 L692.8 373.9 L694.4 374.0 L696.0 374.0 L697.6 374.0 L699.2 374.0 L700.8 374.0 L702.4 374.1 L704.1 374.1 L705.7 374.1 L707.3 374.1 L708.9 374.1 L710.5 374.2 L712.1 374.2 L713.7 374.2 L715.3 374.2 L716.9 374.2 L718.5 374.3 L720.1 374.3 L721.7 374.3 L723.3 374.3 L724.9 374.3 L726.5 374.3 L728.1 374.4 L729.7 374.4 L731.3 374.4 L732.9 374.4 L734.5 374.4 L736.1 374.5 L737.7 374.5 L739.3 374.5 L741.0 374.5 L742.6 374.5 L744.2 374.5 L745.8 374.6 L747.4 374.6 L749.0 374.6 L750.6 374.6 L752.2 374.6 L753.8 374.6 L755.4 374.7 L757.0 374.7 L758.6 374.7 L760.2 374.7 L761.8 374.7 L763.4 374.7 L765.0 374.7 L766.6 374.8 L768.2 374.8 L769.8 374.8 L771.4 374.8 L773.0 374.8 L774.6 374.8 L776.2 374.8 L777.8 374.9 L779.5 374.9 L781.1 374.9 L782.7 374.9 L784.3 374.9 L785.9 374.9 L787.5 374.9 L789.1 375.0 L790.7 375.0 L792.3 375.0 L793.9 375.0 L795.5 375.0 L797.1 375.0 L798.7 375.0 L800.3 375.0 L801.9 375.1 L803.5 375.1 L805.1 375.1 L806.7 375.1 L808.3 375.1 L809.9 375.1 L811.5 375.1 L813.1 375.1" stroke="#800080" stroke-dasharray="1.8 6.5" stroke-dashoffset="0.5"/>
</g>
<path d="M93.9 377.4 H828.3" stroke="#000" stroke-width="1.2"/>
<rect x="93.9" y="34.8" width="734.4" height="552.2" fill="none" stroke="#000" stroke-width="3.9"/>
<path d="M108.7 587.0 v-9.1 M108.7 34.8 v9.1 M131.1 587.0 v-5.7 M131.1 34.8 v5.7 M153.6 587.0 v-5.7 M153.6 34.8 v5.7 M176.0 587.0 v-5.7 M176.0 34.8 v5.7 M198.5 587.0 v-5.7 M198.5 34.8 v5.7 M220.9 587.0 v-9.1 M220.9 34.8 v9.1 M243.3 587.0 v-5.7 M243.3 34.8 v5.7 M265.8 587.0 v-5.7 M265.8 34.8 v5.7 M288.2 587.0 v-5.7 M288.2 34.8 v5.7 M310.7 587.0 v-5.7 M310.7 34.8 v5.7 M333.1 587.0 v-9.1 M333.1 34.8 v9.1 M355.5 587.0 v-5.7 M355.5 34.8 v5.7 M378.0 587.0 v-5.7 M378.0 34.8 v5.7 M400.4 587.0 v-5.7 M400.4 34.8 v5.7 M422.9 587.0 v-5.7 M422.9 34.8 v5.7 M445.3 587.0 v-9.1 M445.3 34.8 v9.1 M467.7 587.0 v-5.7 M467.7 34.8 v5.7 M490.2 587.0 v-5.7 M490.2 34.8 v5.7 M512.6 587.0 v-5.7 M512.6 34.8 v5.7 M535.1 587.0 v-5.7 M535.1 34.8 v5.7 M557.5 587.0 v-9.1 M557.5 34.8 v9.1 M579.9 587.0 v-5.7 M579.9 34.8 v5.7 M602.4 587.0 v-5.7 M602.4 34.8 v5.7 M624.8 587.0 v-5.7 M624.8 34.8 v5.7 M647.3 587.0 v-5.7 M647.3 34.8 v5.7 M669.7 587.0 v-9.1 M669.7 34.8 v9.1 M692.1 587.0 v-5.7 M692.1 34.8 v5.7 M714.6 587.0 v-5.7 M714.6 34.8 v5.7 M737.0 587.0 v-5.7 M737.0 34.8 v5.7 M759.5 587.0 v-5.7 M759.5 34.8 v5.7 M781.9 587.0 v-9.1 M781.9 34.8 v9.1 M804.3 587.0 v-5.7 M804.3 34.8 v5.7 " stroke="#000" stroke-width="3.9" fill="none"/>
<path d="M93.9 582.3 h5.7 M828.3 582.3 h-5.7 M93.9 566.5 h5.7 M828.3 566.5 h-5.7 M93.9 550.8 h5.7 M828.3 550.8 h-5.7 M93.9 535.0 h9.1 M828.3 535.0 h-9.1 M93.9 519.2 h5.7 M828.3 519.2 h-5.7 M93.9 503.5 h5.7 M828.3 503.5 h-5.7 M93.9 487.7 h5.7 M828.3 487.7 h-5.7 M93.9 472.0 h5.7 M828.3 472.0 h-5.7 M93.9 456.2 h9.1 M828.3 456.2 h-9.1 M93.9 440.4 h5.7 M828.3 440.4 h-5.7 M93.9 424.7 h5.7 M828.3 424.7 h-5.7 M93.9 408.9 h5.7 M828.3 408.9 h-5.7 M93.9 393.2 h5.7 M828.3 393.2 h-5.7 M93.9 377.4 h9.1 M828.3 377.4 h-9.1 M93.9 361.6 h5.7 M828.3 361.6 h-5.7 M93.9 345.9 h5.7 M828.3 345.9 h-5.7 M93.9 330.1 h5.7 M828.3 330.1 h-5.7 M93.9 314.4 h5.7 M828.3 314.4 h-5.7 M93.9 298.6 h9.1 M828.3 298.6 h-9.1 M93.9 282.8 h5.7 M828.3 282.8 h-5.7 M93.9 267.1 h5.7 M828.3 267.1 h-5.7 M93.9 251.3 h5.7 M828.3 251.3 h-5.7 M93.9 235.6 h5.7 M828.3 235.6 h-5.7 M93.9 219.8 h9.1 M828.3 219.8 h-9.1 M93.9 204.0 h5.7 M828.3 204.0 h-5.7 M93.9 188.3 h5.7 M828.3 188.3 h-5.7 M93.9 172.5 h5.7 M828.3 172.5 h-5.7 M93.9 156.8 h5.7 M828.3 156.8 h-5.7 M93.9 141.0 h9.1 M828.3 141.0 h-9.1 M93.9 125.2 h5.7 M828.3 125.2 h-5.7 M93.9 109.5 h5.7 M828.3 109.5 h-5.7 M93.9 93.7 h5.7 M828.3 93.7 h-5.7 M93.9 78.0 h5.7 M828.3 78.0 h-5.7 M93.9 62.2 h9.1 M828.3 62.2 h-9.1 M93.9 46.4 h5.7 M828.3 46.4 h-5.7 " stroke="#000" stroke-width="3.3" fill="none"/>
<g font-size="27">
<text x="108.7" y="616.2" text-anchor="middle">0</text>
<path d="M223.50 596.90 L223.50 616.20 L221.20 616.20 L221.20 600.30 Q219.30 602.30 216.55 603.80 L216.25 601.90 Q220.00 600.10 221.70 596.90 Z" fill="#000"/>
<text x="333.1" y="616.2" text-anchor="middle">2</text>
<text x="445.3" y="616.2" text-anchor="middle">3</text>
<text x="557.5" y="616.2" text-anchor="middle">4</text>
<text x="669.7" y="616.2" text-anchor="middle">5</text>
<text x="781.9" y="616.2" text-anchor="middle">6</text>
<path d="M69.35 525.10 L69.35 544.40 L67.05 544.40 L67.05 528.50 Q65.15 530.50 62.40 532.00 L62.10 530.10 Q65.85 528.30 67.55 525.10 Z" fill="#000"/>
<text x="88.6" y="544.9" text-anchor="end">0</text>
<text x="41.6" y="544.9">−</text>
<text x="88.6" y="466.1" text-anchor="end">5</text>
<text x="56.6" y="466.1">−</text>
<text x="88.6" y="387.3" text-anchor="end">0</text>
<text x="88.6" y="308.5" text-anchor="end">5</text>
<path d="M69.35 209.90 L69.35 229.20 L67.05 229.20 L67.05 213.30 Q65.15 215.30 62.40 216.80 L62.10 214.90 Q65.85 213.10 67.55 209.90 Z" fill="#000"/>
<text x="88.6" y="229.7" text-anchor="end">0</text>
<path d="M69.35 131.10 L69.35 150.40 L67.05 150.40 L67.05 134.50 Q65.15 136.50 62.40 138.00 L62.10 136.10 Q65.85 134.30 67.55 131.10 Z" fill="#000"/>
<text x="88.6" y="150.9" text-anchor="end">5</text>
<text x="88.6" y="72.1" text-anchor="end">20</text>
<text x="461" y="24" font-size="26.3" text-anchor="middle"><tspan font-style="italic">β</tspan>=0.45</text>
<text x="461.5" y="657.8" text-anchor="middle">E</text>
<text transform="translate(24.2 344.8) rotate(-90)">R(E)<tspan font-size="18" dy="6.5">+</tspan></text>
</g>
<rect x="641.4" y="51.4" width="132.9" height="187" rx="8" ry="8" fill="none" stroke="#000" stroke-width="2.5"/>
<g font-size="22.6" stroke="#000" stroke-width="0.3">
<rect x="656.7" y="71.0" width="23.4" height="23.2" fill="#0000ff" stroke="#0000b3" stroke-width="0.8"/>
<text y="89.8"><tspan x="684.3" font-style="italic">γ</tspan><tspan x="703.8">=</tspan><tspan x="723.8">0.</tspan></text>
<rect x="656.7" y="101.1" width="23.4" height="23.2" fill="#ff8000" stroke="#b35a00" stroke-width="0.8"/>
<text y="119.9"><tspan x="684.3" font-style="italic">γ</tspan><tspan x="703.8">=</tspan><tspan x="723.8">0.2</tspan></text>
<rect x="656.7" y="131.2" width="23.4" height="23.2" fill="#00ff00" stroke="#00b300" stroke-width="0.8"/>
<text y="150.0"><tspan x="684.3" font-style="italic">γ</tspan><tspan x="703.8">=</tspan><tspan x="723.8">0.4</tspan></text>
<rect x="656.7" y="161.3" width="23.4" height="23.2" fill="#ff0000" stroke="#b30000" stroke-width="0.8"/>
<text y="180.1"><tspan x="684.3" font-style="italic">γ</tspan><tspan x="703.8">=</tspan><tspan x="723.8">0.6</tspan></text>
<rect x="656.7" y="191.4" width="23.4" height="23.2" fill="#800080" stroke="#5a005a" stroke-width="0.8"/>
<text y="210.2"><tspan x="684.3" font-style="italic">γ</tspan><tspan x="703.8">=</tspan><tspan x="723.8">0.8</tspan></text>
</g>
<path d="M648.2 270.7 H714.8" stroke="#000" stroke-width="3.9"/>
<path d="M648.2 302.7 H714.8" stroke="#000" stroke-width="3.9" stroke-dasharray="1.8 6.5" stroke-dashoffset="-2.2"/>
<g font-size="16.5"><text x="723" y="276.6">Real</text><text x="723.3" y="308.6">Imaginary</text></g>
</svg>
</body></html>
